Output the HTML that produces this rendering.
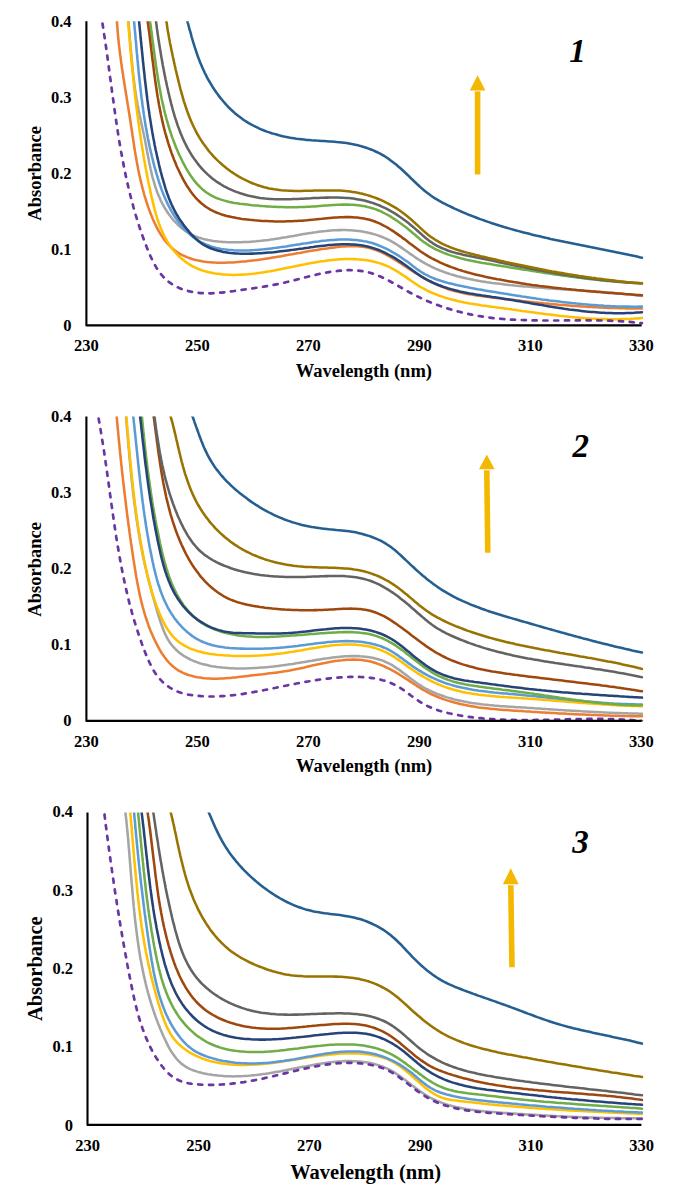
<!DOCTYPE html>
<html><head><meta charset="utf-8"><style>
html,body{margin:0;padding:0;background:#fff;}
svg{display:block;}
.t{font-family:"Liberation Serif",serif;font-weight:bold;font-size:16.5px;fill:#000;}
.ax{font-family:"Liberation Serif",serif;font-weight:bold;fill:#000;}
.num{font-family:"Liberation Serif",serif;font-weight:bold;font-style:italic;font-size:33px;fill:#000;}
</style></head><body>
<svg width="675" height="1194" viewBox="0 0 675 1194">
<rect width="675" height="1194" fill="#fff"/>
<clipPath id="c1"><rect x="85" y="21.2" width="558.5" height="304.8"/></clipPath>
<g clip-path="url(#c1)" fill="none" stroke-linejoin="round" stroke-linecap="round">
<path d="M116.6 15.0 L116.7 17.5 L116.9 20.0 L117.0 22.6 L117.2 25.1 L117.4 27.6 L117.6 30.1 L117.8 32.6 L118.0 35.1 L118.2 37.6 L118.5 40.1 L118.7 42.6 L119.0 45.1 L119.3 47.6 L119.6 50.1 L119.9 52.6 L120.2 55.1 L120.6 57.6 L120.9 60.1 L121.2 62.6 L121.6 65.1 L121.9 67.6 L122.3 70.1 L122.7 72.6 L123.1 75.0 L123.4 77.5 L123.8 80.0 L124.2 82.5 L124.6 85.0 L125.0 87.5 L125.4 90.0 L125.8 92.5 L126.2 94.9 L126.6 97.4 L127.0 99.9 L127.4 102.4 L127.8 104.9 L128.2 107.4 L128.6 109.9 L129.0 112.3 L129.4 114.8 L129.8 117.3 L130.2 119.8 L130.6 122.3 L130.9 124.8 L131.3 127.3 L131.7 129.7 L132.1 132.2 L132.4 134.7 L132.8 137.2 L133.2 139.7 L133.6 142.1 L133.9 144.6 L134.3 147.1 L134.7 149.6 L135.1 152.1 L135.5 154.5 L136.0 157.0 L136.4 159.5 L136.8 161.9 L137.3 164.4 L137.8 166.9 L138.2 169.3 L138.7 171.8 L139.2 174.2 L139.8 176.7 L140.3 179.1 L140.9 181.6 L141.5 184.0 L142.1 186.5 L142.7 188.9 L143.4 191.3 L144.0 193.8 L144.7 196.2 L145.5 198.6 L146.2 201.0 L147.0 203.4 L147.8 205.8 L148.6 208.2 L149.5 210.6 L150.4 213.0 L151.4 215.4 L152.3 217.8 L153.3 220.2 L154.4 222.5 L155.5 224.8 L156.6 227.1 L157.8 229.3 L159.0 231.6 L160.3 233.7 L161.7 235.8 L163.1 237.9 L164.5 239.9 L166.0 241.8 L167.6 243.7 L169.3 245.4 L171.0 247.1 L172.8 248.8 L174.7 250.3 L176.6 251.7 L178.6 253.0 L180.7 254.3 L182.9 255.4 L185.2 256.4 L187.5 257.4 L189.8 258.2 L192.2 259.0 L194.6 259.7 L197.1 260.3 L199.6 260.8 L202.1 261.3 L204.6 261.7 L207.2 262.0 L209.7 262.2 L212.3 262.4 L214.8 262.6 L217.4 262.7 L220.0 262.7 L222.5 262.7 L225.1 262.7 L227.7 262.6 L230.2 262.5 L232.8 262.4 L235.3 262.2 L237.8 262.0 L240.4 261.8 L242.9 261.6 L245.4 261.4 L247.9 261.1 L250.4 260.8 L252.9 260.5 L255.3 260.2 L257.8 259.9 L260.3 259.6 L262.8 259.2 L265.2 258.8 L267.7 258.4 L270.1 258.1 L272.6 257.6 L275.1 257.2 L277.5 256.8 L280.0 256.4 L282.4 256.0 L284.9 255.5 L287.3 255.1 L289.8 254.6 L292.2 254.2 L294.7 253.7 L297.1 253.3 L299.6 252.9 L302.1 252.4 L304.5 252.0 L307.0 251.5 L309.5 251.1 L312.0 250.7 L314.5 250.3 L317.0 249.9 L319.5 249.5 L322.0 249.1 L324.5 248.7 L327.0 248.4 L329.6 248.0 L332.1 247.7 L334.6 247.4 L337.2 247.1 L339.7 246.8 L342.3 246.6 L344.9 246.4 L347.4 246.3 L349.9 246.2 L352.5 246.2 L355.0 246.2 L357.5 246.3 L360.0 246.5 L362.4 246.8 L364.9 247.1 L367.3 247.6 L369.7 248.1 L372.1 248.7 L374.4 249.5 L376.7 250.3 L379.0 251.2 L381.2 252.2 L383.5 253.3 L385.7 254.4 L387.9 255.6 L390.1 256.8 L392.3 258.1 L394.4 259.4 L396.6 260.7 L398.7 262.1 L400.9 263.5 L403.0 264.9 L405.2 266.3 L407.3 267.7 L409.4 269.1 L411.6 270.5 L413.7 271.8 L415.9 273.2 L418.0 274.5 L420.2 275.8 L422.4 277.0 L424.5 278.3 L426.7 279.5 L428.9 280.7 L431.1 281.8 L433.4 282.9 L435.6 284.0 L437.9 285.0 L440.2 286.0 L442.4 286.9 L444.8 287.8 L447.1 288.7 L449.4 289.5 L451.8 290.2 L454.2 290.9 L456.6 291.5 L459.1 292.1 L461.5 292.7 L464.0 293.2 L466.4 293.7 L468.9 294.2 L471.4 294.6 L473.9 295.0 L476.4 295.4 L479.0 295.7 L481.5 296.1 L484.0 296.4 L486.5 296.7 L489.1 297.0 L491.6 297.4 L494.1 297.7 L496.6 298.0 L499.1 298.3 L501.6 298.6 L504.1 298.9 L506.7 299.2 L509.2 299.5 L511.7 299.8 L514.2 300.1 L516.7 300.4 L519.2 300.6 L521.7 300.9 L524.2 301.2 L526.7 301.5 L529.1 301.7 L531.6 302.0 L534.1 302.3 L536.6 302.5 L539.1 302.8 L541.6 303.0 L544.1 303.3 L546.6 303.5 L549.1 303.8 L551.6 304.0 L554.0 304.2 L556.5 304.4 L559.0 304.7 L561.5 304.9 L564.0 305.1 L566.5 305.3 L569.0 305.5 L571.5 305.7 L574.0 305.9 L576.5 306.0 L579.0 306.2 L581.5 306.4 L584.0 306.6 L586.5 306.7 L589.0 306.9 L591.5 307.0 L594.0 307.2 L596.5 307.3 L599.0 307.4 L601.5 307.5 L604.0 307.7 L606.5 307.8 L609.0 307.9 L611.5 308.0 L614.1 308.0 L616.6 308.1 L619.1 308.2 L621.6 308.3 L624.2 308.3 L626.7 308.4 L629.3 308.4 L631.8 308.4 L634.3 308.5 L636.9 308.5 L639.4 308.5 L642.0 308.5" stroke="#ED7D31" stroke-width="2.55"/>
<path d="M128.0 15.0 L128.2 17.5 L128.4 20.0 L128.6 22.5 L128.8 25.0 L129.0 27.5 L129.2 30.0 L129.4 32.5 L129.6 35.0 L129.8 37.5 L130.0 40.0 L130.2 42.6 L130.4 45.1 L130.6 47.6 L130.9 50.1 L131.1 52.6 L131.3 55.1 L131.5 57.6 L131.7 60.1 L132.0 62.6 L132.2 65.1 L132.5 67.7 L132.7 70.2 L133.0 72.7 L133.3 75.2 L133.6 77.7 L133.9 80.1 L134.2 82.6 L134.5 85.1 L134.8 87.6 L135.2 90.1 L135.5 92.6 L135.9 95.0 L136.3 97.5 L136.7 100.0 L137.2 102.4 L137.6 104.9 L138.1 107.3 L138.5 109.8 L139.0 112.2 L139.5 114.7 L140.1 117.1 L140.6 119.6 L141.1 122.0 L141.6 124.4 L142.2 126.9 L142.7 129.3 L143.2 131.8 L143.8 134.2 L144.3 136.7 L144.8 139.1 L145.3 141.6 L145.7 144.1 L146.2 146.6 L146.7 149.1 L147.1 151.5 L147.6 154.0 L148.1 156.5 L148.6 159.0 L149.0 161.5 L149.5 164.0 L150.1 166.5 L150.6 169.0 L151.2 171.4 L151.7 173.9 L152.3 176.3 L153.0 178.8 L153.7 181.2 L154.4 183.6 L155.1 186.0 L155.9 188.4 L156.7 190.8 L157.6 193.2 L158.6 195.5 L159.6 197.8 L160.6 200.1 L161.7 202.4 L162.9 204.6 L164.1 206.9 L165.4 209.0 L166.8 211.2 L168.2 213.3 L169.6 215.3 L171.1 217.3 L172.7 219.3 L174.4 221.1 L176.1 222.9 L177.8 224.7 L179.6 226.4 L181.5 228.0 L183.4 229.5 L185.4 230.9 L187.5 232.2 L189.6 233.5 L191.7 234.6 L193.9 235.7 L196.2 236.6 L198.5 237.5 L200.9 238.2 L203.3 238.9 L205.7 239.5 L208.2 240.1 L210.6 240.5 L213.2 240.9 L215.7 241.2 L218.2 241.5 L220.8 241.7 L223.3 241.9 L225.8 242.1 L228.4 242.2 L230.9 242.3 L233.4 242.3 L236.0 242.3 L238.5 242.3 L241.0 242.2 L243.5 242.1 L246.0 242.0 L248.5 241.9 L251.0 241.7 L253.5 241.5 L256.0 241.3 L258.5 241.0 L261.0 240.8 L263.5 240.5 L266.0 240.2 L268.5 239.9 L271.0 239.5 L273.5 239.2 L276.0 238.8 L278.5 238.4 L281.0 238.0 L283.5 237.6 L286.0 237.2 L288.5 236.7 L291.0 236.3 L293.5 235.9 L296.0 235.4 L298.5 235.0 L301.0 234.5 L303.5 234.1 L306.0 233.7 L308.5 233.3 L311.0 232.9 L313.5 232.5 L316.0 232.2 L318.5 231.8 L321.0 231.5 L323.5 231.2 L326.0 231.0 L328.5 230.7 L331.1 230.5 L333.6 230.3 L336.1 230.2 L338.6 230.1 L341.1 230.1 L343.6 230.0 L346.1 230.1 L348.5 230.2 L351.0 230.3 L353.5 230.5 L356.0 230.7 L358.5 231.0 L361.0 231.3 L363.4 231.7 L365.9 232.2 L368.3 232.7 L370.7 233.3 L373.1 233.9 L375.5 234.6 L377.9 235.4 L380.2 236.2 L382.5 237.1 L384.8 238.1 L387.1 239.1 L389.3 240.2 L391.5 241.4 L393.6 242.6 L395.8 243.9 L397.9 245.3 L400.0 246.6 L402.1 248.1 L404.1 249.5 L406.2 251.0 L408.3 252.4 L410.3 253.9 L412.4 255.3 L414.5 256.8 L416.5 258.2 L418.6 259.5 L420.8 260.9 L422.9 262.2 L425.1 263.4 L427.3 264.6 L429.5 265.7 L431.7 266.8 L433.9 267.9 L436.2 268.9 L438.5 269.8 L440.8 270.8 L443.1 271.6 L445.4 272.5 L447.8 273.3 L450.1 274.1 L452.5 274.8 L454.9 275.5 L457.3 276.2 L459.7 276.8 L462.2 277.4 L464.6 278.0 L467.0 278.6 L469.5 279.1 L472.0 279.6 L474.4 280.1 L476.9 280.5 L479.4 281.0 L481.9 281.4 L484.4 281.8 L486.9 282.2 L489.4 282.5 L491.9 282.9 L494.4 283.2 L496.9 283.5 L499.4 283.8 L501.9 284.1 L504.4 284.4 L506.9 284.7 L509.4 285.0 L511.9 285.2 L514.4 285.5 L516.9 285.7 L519.4 286.0 L521.9 286.2 L524.4 286.4 L526.9 286.6 L529.4 286.8 L531.9 287.0 L534.4 287.2 L536.9 287.4 L539.4 287.6 L541.9 287.8 L544.4 288.0 L546.9 288.2 L549.4 288.4 L551.9 288.5 L554.4 288.7 L556.9 288.9 L559.4 289.0 L561.9 289.2 L564.4 289.4 L566.9 289.5 L569.4 289.7 L571.9 289.9 L574.4 290.0 L576.9 290.2 L579.4 290.4 L581.9 290.5 L584.4 290.7 L586.9 290.9 L589.4 291.0 L591.9 291.2 L594.4 291.4 L596.9 291.6 L599.4 291.8 L601.9 292.0 L604.4 292.2 L606.9 292.4 L609.4 292.6 L611.9 292.8 L614.4 293.0 L616.9 293.3 L619.4 293.5 L622.0 293.7 L624.5 294.0 L627.0 294.2 L629.5 294.5 L632.0 294.8 L634.5 295.1 L637.0 295.4 L639.5 295.7 L642.0 296.0" stroke="#A5A5A5" stroke-width="2.55"/>
<path d="M127.5 15.0 L127.7 17.5 L127.9 20.1 L128.1 22.6 L128.3 25.1 L128.6 27.6 L128.8 30.1 L129.0 32.6 L129.2 35.1 L129.4 37.6 L129.7 40.2 L129.9 42.7 L130.1 45.2 L130.3 47.7 L130.5 50.2 L130.8 52.7 L131.0 55.2 L131.2 57.7 L131.5 60.2 L131.7 62.7 L131.9 65.2 L132.2 67.6 L132.4 70.1 L132.7 72.6 L132.9 75.1 L133.2 77.6 L133.4 80.1 L133.7 82.6 L134.0 85.1 L134.2 87.5 L134.5 90.0 L134.8 92.5 L135.1 95.0 L135.3 97.5 L135.6 100.0 L135.9 102.4 L136.2 104.9 L136.5 107.4 L136.8 109.9 L137.1 112.4 L137.5 114.8 L137.8 117.3 L138.1 119.8 L138.4 122.3 L138.8 124.7 L139.1 127.2 L139.5 129.7 L139.8 132.2 L140.2 134.6 L140.5 137.1 L140.9 139.6 L141.3 142.1 L141.7 144.5 L142.1 147.0 L142.5 149.5 L142.9 151.9 L143.3 154.4 L143.7 156.9 L144.1 159.4 L144.6 161.8 L145.0 164.3 L145.5 166.8 L145.9 169.3 L146.4 171.7 L146.9 174.2 L147.4 176.7 L147.8 179.2 L148.3 181.7 L148.9 184.1 L149.4 186.6 L149.9 189.1 L150.4 191.6 L151.0 194.1 L151.5 196.5 L152.1 199.0 L152.7 201.5 L153.3 204.0 L153.9 206.4 L154.5 208.9 L155.2 211.3 L155.8 213.8 L156.6 216.2 L157.3 218.6 L158.1 221.0 L158.9 223.4 L159.8 225.7 L160.7 228.0 L161.7 230.3 L162.7 232.6 L163.7 234.8 L164.8 237.0 L166.0 239.2 L167.2 241.3 L168.5 243.4 L169.9 245.5 L171.3 247.5 L172.8 249.4 L174.4 251.4 L176.0 253.2 L177.8 255.0 L179.5 256.8 L181.4 258.4 L183.3 260.0 L185.2 261.6 L187.2 263.0 L189.3 264.4 L191.4 265.6 L193.6 266.8 L195.9 267.9 L198.1 268.9 L200.5 269.8 L202.8 270.6 L205.2 271.3 L207.7 272.0 L210.1 272.5 L212.6 273.0 L215.1 273.5 L217.6 273.8 L220.1 274.1 L222.6 274.4 L225.2 274.6 L227.7 274.7 L230.2 274.8 L232.7 274.9 L235.2 274.9 L237.8 274.8 L240.3 274.7 L242.8 274.6 L245.3 274.5 L247.8 274.3 L250.3 274.0 L252.8 273.8 L255.3 273.5 L257.8 273.1 L260.3 272.8 L262.8 272.4 L265.3 272.0 L267.8 271.6 L270.3 271.2 L272.8 270.7 L275.3 270.3 L277.8 269.8 L280.3 269.3 L282.7 268.8 L285.2 268.3 L287.7 267.8 L290.2 267.3 L292.7 266.8 L295.2 266.3 L297.7 265.7 L300.1 265.2 L302.6 264.7 L305.1 264.3 L307.6 263.8 L310.1 263.3 L312.6 262.8 L315.0 262.4 L317.5 262.0 L320.0 261.6 L322.5 261.2 L325.0 260.9 L327.4 260.5 L329.9 260.2 L332.4 259.9 L334.9 259.7 L337.4 259.5 L339.9 259.3 L342.4 259.2 L344.8 259.1 L347.3 259.0 L349.8 259.0 L352.3 259.1 L354.8 259.1 L357.3 259.3 L359.8 259.4 L362.2 259.7 L364.7 260.0 L367.1 260.3 L369.6 260.7 L372.0 261.2 L374.4 261.8 L376.8 262.4 L379.2 263.1 L381.5 263.8 L383.8 264.7 L386.1 265.6 L388.4 266.6 L390.6 267.7 L392.8 268.8 L395.0 270.1 L397.1 271.4 L399.3 272.7 L401.4 274.1 L403.5 275.5 L405.6 276.9 L407.7 278.4 L409.8 279.9 L411.9 281.3 L414.0 282.7 L416.1 284.1 L418.2 285.5 L420.3 286.8 L422.5 288.0 L424.7 289.2 L426.9 290.4 L429.1 291.5 L431.4 292.5 L433.7 293.5 L436.0 294.4 L438.3 295.3 L440.6 296.1 L442.9 296.9 L445.3 297.7 L447.7 298.4 L450.1 299.1 L452.5 299.7 L454.9 300.3 L457.3 300.9 L459.7 301.5 L462.2 302.0 L464.6 302.5 L467.1 302.9 L469.6 303.4 L472.1 303.8 L474.5 304.2 L477.0 304.6 L479.5 305.0 L482.0 305.4 L484.5 305.7 L487.0 306.1 L489.5 306.4 L492.0 306.8 L494.6 307.1 L497.1 307.4 L499.6 307.8 L502.1 308.1 L504.6 308.4 L507.1 308.8 L509.6 309.1 L512.1 309.5 L514.5 309.8 L517.0 310.2 L519.5 310.5 L522.0 310.9 L524.5 311.2 L527.0 311.6 L529.5 311.9 L531.9 312.2 L534.4 312.6 L536.9 312.9 L539.4 313.3 L541.9 313.6 L544.3 313.9 L546.8 314.2 L549.3 314.5 L551.8 314.8 L554.3 315.1 L556.7 315.4 L559.2 315.7 L561.7 316.0 L564.2 316.3 L566.7 316.5 L569.1 316.8 L571.6 317.0 L574.1 317.3 L576.6 317.5 L579.1 317.7 L581.6 317.9 L584.0 318.1 L586.5 318.2 L589.0 318.4 L591.5 318.6 L594.0 318.7 L596.5 318.8 L599.0 318.9 L601.5 319.0 L604.0 319.1 L606.5 319.1 L609.0 319.2 L611.6 319.2 L614.1 319.2 L616.6 319.2 L619.1 319.2 L621.6 319.1 L624.2 319.1 L626.7 319.0 L629.3 318.9 L631.8 318.7 L634.3 318.6 L636.9 318.4 L639.4 318.2 L642.0 318.0" stroke="#FFC000" stroke-width="2.55"/>
<path d="M133.5 15.0 L133.7 17.5 L133.9 20.0 L134.2 22.5 L134.4 25.0 L134.6 27.4 L134.8 29.9 L135.1 32.4 L135.3 34.9 L135.5 37.4 L135.7 39.9 L136.0 42.4 L136.2 44.9 L136.4 47.4 L136.6 49.9 L136.8 52.4 L137.1 54.9 L137.3 57.4 L137.5 59.9 L137.8 62.4 L138.0 65.0 L138.3 67.5 L138.5 70.0 L138.7 72.5 L139.0 75.0 L139.3 77.5 L139.5 80.0 L139.8 82.5 L140.1 85.0 L140.4 87.5 L140.6 90.0 L140.9 92.5 L141.2 95.0 L141.5 97.5 L141.9 100.0 L142.2 102.5 L142.5 105.0 L142.9 107.5 L143.2 110.0 L143.6 112.5 L143.9 114.9 L144.3 117.4 L144.7 119.9 L145.1 122.4 L145.5 124.9 L145.9 127.3 L146.4 129.8 L146.8 132.3 L147.3 134.7 L147.7 137.2 L148.2 139.6 L148.7 142.1 L149.2 144.5 L149.7 147.0 L150.3 149.4 L150.8 151.9 L151.4 154.3 L152.0 156.7 L152.6 159.1 L153.2 161.6 L153.8 164.0 L154.4 166.4 L155.1 168.8 L155.8 171.2 L156.5 173.6 L157.2 175.9 L157.9 178.3 L158.6 180.7 L159.4 183.1 L160.2 185.4 L161.0 187.8 L161.8 190.1 L162.7 192.4 L163.6 194.8 L164.6 197.1 L165.6 199.4 L166.6 201.6 L167.7 203.9 L168.8 206.2 L170.0 208.4 L171.2 210.6 L172.5 212.8 L173.8 215.0 L175.2 217.2 L176.7 219.3 L178.2 221.4 L179.7 223.5 L181.3 225.5 L183.0 227.4 L184.7 229.3 L186.5 231.2 L188.3 232.9 L190.2 234.6 L192.1 236.2 L194.1 237.8 L196.1 239.2 L198.2 240.5 L200.3 241.8 L202.5 242.9 L204.7 244.0 L207.0 244.9 L209.3 245.8 L211.6 246.6 L214.0 247.3 L216.4 247.9 L218.8 248.4 L221.2 248.9 L223.7 249.3 L226.2 249.6 L228.7 249.9 L231.2 250.1 L233.7 250.3 L236.3 250.4 L238.8 250.5 L241.3 250.5 L243.9 250.5 L246.4 250.4 L248.9 250.4 L251.5 250.2 L254.0 250.1 L256.5 249.9 L259.0 249.7 L261.5 249.5 L263.9 249.3 L266.4 249.0 L268.9 248.7 L271.4 248.4 L273.8 248.1 L276.3 247.8 L278.8 247.4 L281.2 247.1 L283.7 246.7 L286.1 246.4 L288.6 246.0 L291.1 245.6 L293.5 245.2 L296.0 244.8 L298.5 244.4 L301.0 244.0 L303.5 243.6 L306.0 243.3 L308.5 242.9 L311.0 242.5 L313.5 242.1 L316.0 241.8 L318.6 241.5 L321.1 241.1 L323.6 240.8 L326.2 240.6 L328.7 240.3 L331.3 240.1 L333.8 239.9 L336.4 239.7 L338.9 239.6 L341.5 239.5 L344.0 239.5 L346.5 239.5 L349.0 239.6 L351.5 239.7 L354.0 239.9 L356.5 240.1 L359.0 240.4 L361.4 240.7 L363.9 241.2 L366.3 241.6 L368.7 242.2 L371.1 242.8 L373.5 243.5 L375.8 244.3 L378.1 245.2 L380.4 246.1 L382.7 247.1 L385.0 248.1 L387.2 249.2 L389.4 250.4 L391.6 251.6 L393.8 252.8 L396.0 254.1 L398.1 255.4 L400.2 256.8 L402.3 258.2 L404.4 259.7 L406.5 261.1 L408.5 262.6 L410.5 264.1 L412.5 265.7 L414.5 267.2 L416.5 268.7 L418.5 270.1 L420.6 271.5 L422.7 272.8 L424.8 274.1 L427.0 275.2 L429.2 276.3 L431.5 277.3 L433.7 278.3 L436.0 279.2 L438.4 280.0 L440.7 280.8 L443.1 281.5 L445.5 282.2 L447.9 282.9 L450.4 283.5 L452.8 284.1 L455.3 284.7 L457.7 285.3 L460.2 285.8 L462.7 286.3 L465.1 286.8 L467.6 287.3 L470.1 287.8 L472.5 288.2 L475.0 288.7 L477.5 289.2 L480.0 289.6 L482.5 290.0 L484.9 290.5 L487.4 290.9 L489.9 291.3 L492.4 291.7 L494.9 292.1 L497.3 292.5 L499.8 292.9 L502.3 293.3 L504.8 293.7 L507.2 294.1 L509.7 294.5 L512.2 294.9 L514.7 295.3 L517.2 295.7 L519.6 296.1 L522.1 296.5 L524.6 296.8 L527.1 297.2 L529.5 297.6 L532.0 297.9 L534.5 298.3 L537.0 298.7 L539.5 299.0 L541.9 299.4 L544.4 299.7 L546.9 300.0 L549.4 300.4 L551.9 300.7 L554.3 301.0 L556.8 301.3 L559.3 301.6 L561.8 301.9 L564.3 302.2 L566.8 302.5 L569.2 302.8 L571.7 303.1 L574.2 303.3 L576.7 303.6 L579.2 303.8 L581.7 304.1 L584.2 304.3 L586.7 304.5 L589.2 304.7 L591.7 304.9 L594.2 305.1 L596.7 305.3 L599.2 305.5 L601.7 305.6 L604.2 305.8 L606.7 305.9 L609.2 306.0 L611.7 306.2 L614.2 306.3 L616.7 306.4 L619.3 306.4 L621.8 306.5 L624.3 306.6 L626.8 306.6 L629.3 306.6 L631.9 306.7 L634.4 306.7 L636.9 306.7 L639.5 306.6 L642.0 306.6" stroke="#5B9BD5" stroke-width="2.55"/>
<path d="M149.2 15.1 L149.5 17.5 L149.9 20.0 L150.2 22.5 L150.6 24.9 L150.9 27.4 L151.2 29.9 L151.6 32.4 L151.9 34.9 L152.2 37.4 L152.5 39.9 L152.8 42.3 L153.2 44.8 L153.5 47.3 L153.8 49.8 L154.2 52.3 L154.5 54.8 L154.8 57.3 L155.2 59.8 L155.5 62.3 L155.9 64.8 L156.2 67.3 L156.6 69.8 L157.0 72.3 L157.4 74.7 L157.8 77.2 L158.2 79.7 L158.6 82.2 L159.0 84.7 L159.5 87.1 L159.9 89.6 L160.4 92.1 L160.8 94.6 L161.3 97.0 L161.8 99.5 L162.4 101.9 L162.9 104.4 L163.5 106.8 L164.0 109.3 L164.6 111.7 L165.2 114.1 L165.9 116.6 L166.5 119.0 L167.2 121.4 L167.9 123.8 L168.6 126.2 L169.3 128.6 L170.1 131.0 L170.9 133.4 L171.7 135.8 L172.5 138.1 L173.4 140.5 L174.3 142.8 L175.2 145.2 L176.1 147.5 L177.1 149.8 L178.1 152.2 L179.1 154.5 L180.2 156.8 L181.3 159.0 L182.4 161.3 L183.6 163.6 L184.8 165.8 L186.0 168.1 L187.3 170.3 L188.6 172.4 L189.9 174.5 L191.3 176.6 L192.8 178.7 L194.3 180.6 L195.9 182.6 L197.5 184.4 L199.2 186.2 L200.9 187.9 L202.7 189.5 L204.6 191.1 L206.5 192.5 L208.5 193.8 L210.6 195.1 L212.7 196.2 L215.0 197.3 L217.2 198.3 L219.6 199.1 L222.0 199.9 L224.4 200.6 L226.9 201.3 L229.4 201.9 L231.9 202.4 L234.5 202.9 L237.1 203.3 L239.6 203.7 L242.2 204.0 L244.8 204.3 L247.4 204.6 L250.0 204.9 L252.5 205.2 L255.1 205.4 L257.6 205.6 L260.1 205.9 L262.6 206.1 L265.1 206.2 L267.6 206.4 L270.1 206.6 L272.5 206.7 L275.0 206.8 L277.5 206.9 L279.9 207.0 L282.4 207.1 L284.8 207.2 L287.3 207.2 L289.7 207.2 L292.2 207.2 L294.6 207.2 L297.1 207.2 L299.5 207.1 L302.0 207.0 L304.5 206.9 L307.0 206.8 L309.5 206.7 L312.0 206.5 L314.5 206.4 L317.1 206.2 L319.6 206.0 L322.2 205.8 L324.7 205.6 L327.3 205.4 L329.8 205.2 L332.4 205.0 L334.9 204.9 L337.5 204.8 L340.1 204.7 L342.6 204.6 L345.1 204.6 L347.7 204.6 L350.2 204.7 L352.7 204.8 L355.2 205.0 L357.7 205.2 L360.2 205.5 L362.6 205.9 L365.0 206.3 L367.4 206.9 L369.8 207.5 L372.2 208.2 L374.5 208.9 L376.8 209.8 L379.1 210.7 L381.4 211.7 L383.7 212.8 L385.9 214.0 L388.1 215.2 L390.3 216.4 L392.4 217.8 L394.5 219.1 L396.6 220.5 L398.7 222.0 L400.8 223.5 L402.8 225.0 L404.9 226.5 L406.9 228.1 L408.8 229.7 L410.8 231.3 L412.7 233.0 L414.7 234.6 L416.6 236.2 L418.5 237.8 L420.4 239.4 L422.4 240.9 L424.4 242.4 L426.4 243.8 L428.4 245.1 L430.5 246.4 L432.7 247.6 L434.8 248.8 L437.0 249.9 L439.2 250.9 L441.5 251.9 L443.8 252.9 L446.1 253.7 L448.4 254.6 L450.8 255.4 L453.1 256.1 L455.5 256.8 L457.9 257.5 L460.4 258.2 L462.8 258.8 L465.2 259.4 L467.7 259.9 L470.2 260.5 L472.6 261.0 L475.1 261.5 L477.6 262.0 L480.1 262.4 L482.6 262.9 L485.1 263.3 L487.6 263.7 L490.1 264.1 L492.6 264.6 L495.1 265.0 L497.6 265.4 L500.1 265.8 L502.6 266.2 L505.1 266.6 L507.6 267.0 L510.1 267.4 L512.6 267.8 L515.1 268.2 L517.5 268.6 L520.0 269.0 L522.5 269.4 L525.0 269.8 L527.4 270.1 L529.9 270.5 L532.4 270.9 L534.9 271.3 L537.3 271.7 L539.8 272.1 L542.3 272.5 L544.7 272.9 L547.2 273.2 L549.7 273.6 L552.1 274.0 L554.6 274.4 L557.0 274.7 L559.5 275.1 L562.0 275.4 L564.4 275.8 L566.9 276.1 L569.4 276.5 L571.8 276.8 L574.3 277.1 L576.8 277.5 L579.3 277.8 L581.7 278.1 L584.2 278.4 L586.7 278.7 L589.2 279.0 L591.6 279.3 L594.1 279.6 L596.6 279.8 L599.1 280.1 L601.6 280.4 L604.1 280.6 L606.6 280.9 L609.1 281.1 L611.6 281.3 L614.1 281.5 L616.6 281.7 L619.1 281.9 L621.7 282.1 L624.2 282.3 L626.7 282.5 L629.3 282.6 L631.8 282.8 L634.3 282.9 L636.9 283.1 L639.4 283.2 L642.0 283.3" stroke="#70AD47" stroke-width="2.55"/>
<path d="M138.4 15.0 L138.7 17.5 L138.9 20.0 L139.2 22.5 L139.4 25.0 L139.7 27.5 L139.9 30.0 L140.2 32.5 L140.4 35.0 L140.6 37.5 L140.9 40.0 L141.1 42.5 L141.4 45.0 L141.6 47.5 L141.9 50.0 L142.1 52.5 L142.4 55.0 L142.6 57.5 L142.9 60.0 L143.1 62.5 L143.4 65.0 L143.6 67.5 L143.9 70.0 L144.2 72.5 L144.5 75.0 L144.7 77.5 L145.0 80.0 L145.3 82.5 L145.6 85.0 L145.9 87.5 L146.2 90.0 L146.5 92.5 L146.8 95.0 L147.1 97.5 L147.4 100.0 L147.8 102.5 L148.1 105.0 L148.4 107.5 L148.8 110.0 L149.2 112.5 L149.5 115.0 L149.9 117.5 L150.3 119.9 L150.7 122.4 L151.1 124.9 L151.5 127.4 L151.9 129.9 L152.3 132.3 L152.8 134.8 L153.2 137.3 L153.7 139.7 L154.2 142.2 L154.6 144.7 L155.1 147.1 L155.6 149.6 L156.2 152.0 L156.7 154.5 L157.2 156.9 L157.8 159.4 L158.4 161.8 L158.9 164.3 L159.5 166.7 L160.1 169.1 L160.7 171.6 L161.4 174.0 L162.0 176.4 L162.7 178.8 L163.4 181.2 L164.1 183.6 L164.8 186.0 L165.5 188.4 L166.3 190.8 L167.1 193.2 L168.0 195.5 L168.8 197.9 L169.8 200.2 L170.7 202.5 L171.7 204.8 L172.8 207.1 L173.9 209.3 L175.1 211.6 L176.3 213.8 L177.6 216.0 L178.9 218.1 L180.3 220.2 L181.8 222.3 L183.3 224.4 L184.8 226.4 L186.4 228.5 L188.0 230.4 L189.6 232.4 L191.3 234.3 L193.1 236.2 L194.9 237.9 L196.7 239.6 L198.6 241.2 L200.6 242.7 L202.6 244.1 L204.7 245.3 L206.8 246.5 L209.0 247.5 L211.3 248.5 L213.6 249.3 L215.9 250.1 L218.3 250.7 L220.7 251.3 L223.2 251.9 L225.7 252.3 L228.2 252.7 L230.7 253.0 L233.2 253.2 L235.8 253.4 L238.3 253.6 L240.9 253.7 L243.4 253.7 L246.0 253.7 L248.5 253.7 L251.1 253.6 L253.6 253.6 L256.1 253.5 L258.6 253.3 L261.1 253.2 L263.6 253.0 L266.1 252.8 L268.6 252.6 L271.1 252.4 L273.5 252.2 L276.0 251.9 L278.5 251.6 L280.9 251.3 L283.4 251.0 L285.8 250.7 L288.3 250.4 L290.8 250.1 L293.2 249.8 L295.7 249.4 L298.2 249.1 L300.7 248.7 L303.1 248.4 L305.6 248.0 L308.2 247.7 L310.7 247.3 L313.2 247.0 L315.7 246.6 L318.3 246.3 L320.8 246.0 L323.4 245.7 L325.9 245.4 L328.5 245.1 L331.1 244.9 L333.6 244.7 L336.2 244.5 L338.7 244.4 L341.3 244.3 L343.8 244.2 L346.4 244.2 L348.9 244.3 L351.4 244.4 L353.9 244.5 L356.4 244.7 L358.9 245.0 L361.3 245.3 L363.8 245.7 L366.2 246.2 L368.6 246.8 L371.0 247.4 L373.3 248.1 L375.7 248.9 L378.0 249.7 L380.3 250.7 L382.5 251.7 L384.8 252.7 L387.0 253.8 L389.2 255.0 L391.4 256.2 L393.6 257.4 L395.7 258.7 L397.9 260.1 L400.0 261.4 L402.1 262.9 L404.2 264.3 L406.3 265.7 L408.3 267.2 L410.4 268.7 L412.4 270.2 L414.5 271.7 L416.5 273.2 L418.6 274.6 L420.6 276.0 L422.7 277.3 L424.9 278.6 L427.1 279.8 L429.2 280.9 L431.5 282.0 L433.7 283.1 L436.0 284.0 L438.3 285.0 L440.6 285.8 L442.9 286.7 L445.3 287.4 L447.6 288.2 L450.0 288.9 L452.4 289.6 L454.8 290.2 L457.3 290.8 L459.7 291.4 L462.2 291.9 L464.7 292.4 L467.1 292.9 L469.6 293.4 L472.1 293.8 L474.6 294.3 L477.1 294.7 L479.6 295.1 L482.2 295.5 L484.7 295.8 L487.2 296.2 L489.7 296.6 L492.2 297.0 L494.8 297.3 L497.3 297.7 L499.8 298.1 L502.3 298.5 L504.8 298.9 L507.3 299.3 L509.8 299.7 L512.3 300.1 L514.8 300.5 L517.2 300.9 L519.7 301.3 L522.2 301.8 L524.7 302.2 L527.1 302.6 L529.6 303.0 L532.0 303.5 L534.5 303.9 L537.0 304.3 L539.4 304.7 L541.9 305.1 L544.3 305.6 L546.8 306.0 L549.2 306.4 L551.7 306.8 L554.1 307.2 L556.6 307.6 L559.1 307.9 L561.5 308.3 L564.0 308.7 L566.4 309.0 L568.9 309.4 L571.3 309.7 L573.8 310.0 L576.3 310.3 L578.7 310.6 L581.2 310.9 L583.7 311.2 L586.2 311.5 L588.6 311.7 L591.1 311.9 L593.6 312.1 L596.1 312.3 L598.6 312.5 L601.1 312.7 L603.6 312.8 L606.1 312.9 L608.6 313.0 L611.2 313.1 L613.7 313.2 L616.2 313.2 L618.8 313.2 L621.3 313.2 L623.9 313.2 L626.4 313.1 L629.0 313.0 L631.6 312.9 L634.2 312.8 L636.8 312.6 L639.4 312.4 L642.0 312.2" stroke="#264478" stroke-width="2.55"/>
<path d="M146.7 15.1 L147.1 17.5 L147.5 20.0 L147.8 22.5 L148.2 24.9 L148.5 27.4 L148.8 29.9 L149.2 32.4 L149.5 34.8 L149.8 37.3 L150.1 39.8 L150.4 42.3 L150.7 44.8 L151.0 47.3 L151.3 49.8 L151.6 52.3 L151.9 54.8 L152.2 57.3 L152.5 59.8 L152.9 62.3 L153.2 64.8 L153.5 67.3 L153.8 69.8 L154.1 72.3 L154.4 74.8 L154.8 77.3 L155.1 79.8 L155.5 82.3 L155.8 84.8 L156.2 87.3 L156.6 89.8 L156.9 92.3 L157.3 94.7 L157.7 97.2 L158.2 99.7 L158.6 102.2 L159.0 104.7 L159.5 107.1 L160.0 109.6 L160.4 112.1 L160.9 114.5 L161.5 117.0 L162.0 119.4 L162.5 121.9 L163.1 124.3 L163.7 126.8 L164.3 129.2 L164.9 131.6 L165.6 134.0 L166.3 136.4 L167.0 138.8 L167.7 141.2 L168.4 143.6 L169.2 146.0 L170.0 148.4 L170.8 150.8 L171.6 153.1 L172.5 155.5 L173.4 157.9 L174.3 160.2 L175.3 162.5 L176.2 164.9 L177.2 167.2 L178.3 169.5 L179.4 171.8 L180.5 174.1 L181.6 176.3 L182.8 178.6 L184.0 180.8 L185.2 183.0 L186.5 185.2 L187.9 187.3 L189.3 189.4 L190.7 191.5 L192.2 193.5 L193.7 195.4 L195.3 197.3 L197.0 199.1 L198.7 200.8 L200.5 202.5 L202.3 204.1 L204.2 205.6 L206.2 207.0 L208.2 208.3 L210.3 209.6 L212.5 210.7 L214.8 211.8 L217.0 212.7 L219.4 213.6 L221.8 214.5 L224.2 215.2 L226.7 215.9 L229.2 216.5 L231.7 217.1 L234.2 217.6 L236.8 218.1 L239.4 218.5 L242.0 218.9 L244.5 219.2 L247.1 219.5 L249.7 219.8 L252.2 220.0 L254.8 220.3 L257.3 220.5 L259.8 220.7 L262.3 220.9 L264.8 221.0 L267.3 221.1 L269.7 221.2 L272.2 221.3 L274.7 221.4 L277.1 221.4 L279.6 221.4 L282.1 221.4 L284.5 221.4 L287.0 221.3 L289.4 221.3 L291.9 221.2 L294.4 221.1 L296.8 221.0 L299.3 220.8 L301.8 220.7 L304.3 220.5 L306.8 220.3 L309.3 220.0 L311.8 219.8 L314.4 219.6 L316.9 219.3 L319.5 219.0 L322.0 218.8 L324.6 218.5 L327.2 218.2 L329.7 218.0 L332.3 217.8 L334.9 217.6 L337.4 217.4 L340.0 217.3 L342.5 217.2 L345.1 217.1 L347.6 217.1 L350.1 217.1 L352.6 217.2 L355.1 217.4 L357.6 217.6 L360.0 217.9 L362.5 218.2 L364.9 218.7 L367.2 219.2 L369.6 219.8 L371.9 220.5 L374.2 221.3 L376.5 222.2 L378.8 223.2 L381.0 224.2 L383.2 225.3 L385.4 226.5 L387.6 227.7 L389.7 229.0 L391.8 230.3 L394.0 231.7 L396.0 233.1 L398.1 234.6 L400.2 236.1 L402.2 237.6 L404.3 239.1 L406.3 240.6 L408.3 242.2 L410.3 243.7 L412.4 245.3 L414.4 246.8 L416.4 248.3 L418.4 249.8 L420.4 251.3 L422.5 252.7 L424.6 254.0 L426.7 255.3 L428.8 256.6 L431.0 257.8 L433.2 259.0 L435.4 260.1 L437.6 261.2 L439.8 262.3 L442.1 263.3 L444.4 264.3 L446.6 265.3 L449.0 266.2 L451.3 267.1 L453.6 267.9 L456.0 268.8 L458.3 269.6 L460.7 270.3 L463.1 271.1 L465.5 271.8 L467.9 272.5 L470.3 273.1 L472.7 273.8 L475.2 274.4 L477.6 275.0 L480.1 275.6 L482.5 276.1 L485.0 276.7 L487.4 277.2 L489.9 277.7 L492.4 278.2 L494.9 278.7 L497.3 279.2 L499.8 279.6 L502.3 280.1 L504.8 280.5 L507.3 281.0 L509.7 281.4 L512.2 281.8 L514.7 282.2 L517.2 282.6 L519.7 283.0 L522.1 283.4 L524.6 283.8 L527.1 284.2 L529.6 284.5 L532.1 284.9 L534.6 285.2 L537.1 285.5 L539.5 285.9 L542.0 286.2 L544.5 286.5 L547.0 286.8 L549.5 287.1 L552.0 287.4 L554.5 287.7 L557.0 288.0 L559.5 288.3 L562.0 288.6 L564.4 288.8 L566.9 289.1 L569.4 289.3 L571.9 289.6 L574.4 289.8 L576.9 290.1 L579.4 290.3 L581.9 290.5 L584.4 290.8 L586.9 291.0 L589.4 291.2 L591.9 291.4 L594.4 291.6 L596.9 291.9 L599.4 292.1 L601.9 292.3 L604.4 292.5 L606.9 292.7 L609.4 292.9 L611.9 293.0 L614.4 293.2 L616.9 293.4 L619.4 293.6 L621.9 293.8 L624.4 294.0 L626.9 294.2 L629.5 294.3 L632.0 294.5 L634.5 294.7 L637.0 294.9 L639.5 295.0 L642.0 295.2" stroke="#9E480E" stroke-width="2.55"/>
<path d="M155.2 15.0 L155.5 17.6 L155.8 20.1 L156.2 22.6 L156.5 25.1 L156.8 27.6 L157.2 30.1 L157.5 32.6 L157.9 35.1 L158.2 37.6 L158.6 40.0 L159.0 42.5 L159.4 45.0 L159.8 47.5 L160.2 49.9 L160.6 52.4 L161.0 54.9 L161.4 57.3 L161.9 59.8 L162.3 62.3 L162.7 64.7 L163.2 67.2 L163.7 69.6 L164.1 72.1 L164.6 74.5 L165.1 77.0 L165.6 79.5 L166.2 81.9 L166.7 84.4 L167.2 86.8 L167.8 89.3 L168.3 91.8 L168.9 94.2 L169.5 96.7 L170.1 99.2 L170.7 101.6 L171.3 104.1 L172.0 106.6 L172.6 109.0 L173.3 111.5 L174.0 113.9 L174.7 116.4 L175.5 118.8 L176.3 121.2 L177.1 123.7 L177.9 126.1 L178.8 128.4 L179.7 130.8 L180.6 133.2 L181.6 135.5 L182.5 137.8 L183.6 140.1 L184.6 142.4 L185.8 144.6 L186.9 146.9 L188.1 149.1 L189.3 151.2 L190.6 153.4 L191.9 155.5 L193.3 157.6 L194.7 159.6 L196.2 161.6 L197.7 163.6 L199.3 165.6 L200.9 167.5 L202.6 169.3 L204.3 171.1 L206.1 172.9 L207.9 174.6 L209.8 176.3 L211.7 177.9 L213.7 179.4 L215.7 180.9 L217.7 182.4 L219.8 183.7 L221.9 185.0 L224.1 186.3 L226.3 187.4 L228.6 188.6 L230.9 189.6 L233.2 190.6 L235.5 191.6 L237.9 192.4 L240.3 193.3 L242.7 194.0 L245.1 194.7 L247.6 195.4 L250.1 196.0 L252.5 196.5 L255.0 197.0 L257.5 197.5 L260.0 197.9 L262.6 198.2 L265.1 198.5 L267.6 198.7 L270.1 198.9 L272.7 199.1 L275.2 199.2 L277.7 199.2 L280.3 199.3 L282.8 199.3 L285.4 199.3 L287.9 199.3 L290.4 199.2 L293.0 199.1 L295.5 199.0 L298.1 198.9 L300.6 198.8 L303.2 198.7 L305.7 198.5 L308.3 198.4 L310.8 198.3 L313.3 198.1 L315.9 198.0 L318.4 197.9 L320.9 197.8 L323.4 197.7 L326.0 197.6 L328.5 197.6 L331.0 197.5 L333.5 197.5 L336.0 197.5 L338.5 197.6 L341.0 197.7 L343.4 197.8 L345.9 197.9 L348.4 198.1 L350.8 198.3 L353.3 198.6 L355.7 199.0 L358.1 199.4 L360.5 199.8 L362.9 200.3 L365.3 200.8 L367.7 201.5 L370.1 202.2 L372.5 202.9 L374.8 203.7 L377.2 204.6 L379.5 205.5 L381.8 206.6 L384.1 207.6 L386.4 208.7 L388.6 209.9 L390.8 211.1 L393.0 212.4 L395.2 213.7 L397.4 215.1 L399.5 216.5 L401.6 218.0 L403.7 219.5 L405.8 221.0 L407.8 222.6 L409.8 224.2 L411.7 225.8 L413.7 227.4 L415.6 229.1 L417.5 230.8 L419.4 232.5 L421.3 234.1 L423.1 235.8 L425.1 237.4 L427.0 238.9 L428.9 240.4 L430.9 241.9 L432.9 243.3 L435.0 244.6 L437.1 245.8 L439.3 246.9 L441.5 248.0 L443.8 248.9 L446.1 249.8 L448.4 250.7 L450.8 251.5 L453.2 252.2 L455.6 252.9 L458.0 253.5 L460.5 254.1 L463.0 254.7 L465.5 255.2 L468.0 255.7 L470.5 256.2 L473.0 256.7 L475.5 257.2 L478.0 257.7 L480.5 258.2 L483.0 258.7 L485.5 259.2 L487.9 259.7 L490.4 260.3 L492.9 260.8 L495.3 261.3 L497.8 261.9 L500.2 262.4 L502.7 262.9 L505.2 263.4 L507.6 263.9 L510.1 264.5 L512.5 265.0 L515.0 265.5 L517.5 266.0 L519.9 266.5 L522.4 267.0 L524.8 267.5 L527.3 268.0 L529.8 268.5 L532.2 269.0 L534.7 269.4 L537.2 269.9 L539.7 270.4 L542.1 270.8 L544.6 271.3 L547.1 271.8 L549.5 272.2 L552.0 272.6 L554.5 273.1 L557.0 273.5 L559.4 273.9 L561.9 274.4 L564.4 274.8 L566.9 275.2 L569.4 275.6 L571.9 276.0 L574.3 276.3 L576.8 276.7 L579.3 277.1 L581.8 277.4 L584.3 277.8 L586.8 278.1 L589.3 278.5 L591.8 278.8 L594.3 279.1 L596.8 279.4 L599.3 279.7 L601.8 280.0 L604.3 280.3 L606.8 280.6 L609.3 280.8 L611.8 281.1 L614.3 281.3 L616.8 281.6 L619.3 281.8 L621.8 282.0 L624.3 282.2 L626.9 282.4 L629.4 282.6 L631.9 282.7 L634.4 282.9 L636.9 283.0 L639.5 283.2 L642.0 283.3" stroke="#636363" stroke-width="2.55"/>
<path d="M165.6 15.1 L165.9 17.6 L166.2 20.1 L166.6 22.6 L167.0 25.1 L167.3 27.6 L167.7 30.1 L168.1 32.6 L168.6 35.0 L169.0 37.5 L169.5 39.9 L169.9 42.4 L170.4 44.8 L170.9 47.3 L171.4 49.7 L171.9 52.1 L172.4 54.6 L172.9 57.0 L173.5 59.4 L174.0 61.9 L174.5 64.3 L175.1 66.8 L175.6 69.2 L176.2 71.7 L176.8 74.1 L177.4 76.6 L178.0 79.1 L178.6 81.6 L179.2 84.0 L179.8 86.5 L180.4 89.0 L181.1 91.4 L181.8 93.9 L182.5 96.4 L183.2 98.8 L183.9 101.3 L184.7 103.7 L185.5 106.1 L186.3 108.5 L187.1 110.9 L188.0 113.3 L188.9 115.7 L189.8 118.0 L190.8 120.4 L191.8 122.7 L192.8 125.0 L193.9 127.3 L195.0 129.5 L196.2 131.8 L197.3 134.0 L198.6 136.1 L199.9 138.3 L201.2 140.4 L202.6 142.5 L204.0 144.6 L205.5 146.6 L207.0 148.6 L208.5 150.6 L210.1 152.5 L211.8 154.4 L213.5 156.3 L215.2 158.1 L217.0 159.9 L218.8 161.6 L220.7 163.3 L222.6 165.0 L224.5 166.6 L226.5 168.2 L228.5 169.7 L230.5 171.2 L232.6 172.6 L234.7 174.0 L236.8 175.3 L238.9 176.6 L241.1 177.8 L243.3 179.0 L245.6 180.2 L247.8 181.2 L250.1 182.3 L252.4 183.2 L254.8 184.1 L257.1 185.0 L259.5 185.8 L261.9 186.5 L264.3 187.2 L266.7 187.8 L269.1 188.4 L271.6 188.8 L274.1 189.3 L276.5 189.6 L279.0 189.9 L281.5 190.2 L284.0 190.4 L286.6 190.6 L289.1 190.7 L291.6 190.8 L294.2 190.9 L296.7 190.9 L299.3 190.9 L301.8 190.9 L304.4 190.8 L306.9 190.8 L309.5 190.7 L312.1 190.7 L314.6 190.6 L317.2 190.5 L319.8 190.5 L322.3 190.4 L324.9 190.4 L327.4 190.4 L330.0 190.4 L332.5 190.4 L335.1 190.4 L337.6 190.5 L340.1 190.6 L342.7 190.8 L345.2 191.0 L347.7 191.2 L350.1 191.5 L352.6 191.9 L355.1 192.3 L357.5 192.7 L360.0 193.3 L362.4 193.8 L364.8 194.4 L367.2 195.1 L369.5 195.8 L371.9 196.6 L374.2 197.4 L376.6 198.3 L378.9 199.2 L381.1 200.2 L383.4 201.2 L385.6 202.3 L387.8 203.4 L390.0 204.6 L392.2 205.8 L394.4 207.1 L396.5 208.4 L398.6 209.8 L400.7 211.2 L402.7 212.7 L404.7 214.2 L406.7 215.8 L408.7 217.4 L410.6 219.0 L412.5 220.7 L414.4 222.4 L416.3 224.2 L418.2 225.9 L420.0 227.7 L421.9 229.4 L423.8 231.1 L425.7 232.8 L427.7 234.4 L429.7 235.9 L431.7 237.4 L433.8 238.8 L435.9 240.2 L438.0 241.4 L440.2 242.6 L442.4 243.8 L444.7 244.8 L447.0 245.9 L449.3 246.8 L451.6 247.8 L454.0 248.6 L456.3 249.5 L458.7 250.2 L461.1 251.0 L463.6 251.7 L466.0 252.4 L468.4 253.1 L470.9 253.7 L473.3 254.3 L475.8 255.0 L478.3 255.6 L480.7 256.2 L483.2 256.7 L485.7 257.3 L488.1 257.9 L490.6 258.5 L493.0 259.1 L495.5 259.6 L498.0 260.2 L500.4 260.8 L502.9 261.3 L505.4 261.9 L507.8 262.4 L510.3 263.0 L512.7 263.5 L515.2 264.0 L517.7 264.6 L520.1 265.1 L522.6 265.6 L525.0 266.1 L527.5 266.6 L530.0 267.1 L532.4 267.6 L534.9 268.1 L537.4 268.6 L539.8 269.1 L542.3 269.5 L544.8 270.0 L547.2 270.5 L549.7 270.9 L552.2 271.4 L554.6 271.8 L557.1 272.3 L559.6 272.7 L562.0 273.1 L564.5 273.6 L567.0 274.0 L569.5 274.4 L571.9 274.8 L574.4 275.2 L576.9 275.6 L579.4 276.0 L581.9 276.3 L584.3 276.7 L586.8 277.1 L589.3 277.4 L591.8 277.8 L594.3 278.1 L596.8 278.5 L599.3 278.8 L601.8 279.1 L604.3 279.4 L606.8 279.7 L609.3 280.0 L611.8 280.3 L614.3 280.6 L616.8 280.9 L619.3 281.2 L621.8 281.4 L624.3 281.7 L626.8 282.0 L629.4 282.2 L631.9 282.4 L634.4 282.7 L636.9 282.9 L639.5 283.1 L642.0 283.3" stroke="#997300" stroke-width="2.55"/>
<path d="M185.7 15.2 L186.4 17.6 L187.1 20.1 L187.7 22.5 L188.4 25.0 L189.0 27.4 L189.7 29.8 L190.4 32.2 L191.1 34.7 L191.7 37.1 L192.4 39.5 L193.1 41.9 L193.9 44.3 L194.6 46.7 L195.4 49.1 L196.2 51.5 L197.0 53.9 L197.8 56.3 L198.7 58.6 L199.6 61.0 L200.5 63.3 L201.5 65.6 L202.5 67.9 L203.6 70.3 L204.6 72.5 L205.8 74.8 L206.9 77.1 L208.1 79.3 L209.4 81.5 L210.7 83.7 L212.0 85.9 L213.3 88.1 L214.8 90.2 L216.2 92.3 L217.7 94.3 L219.2 96.4 L220.8 98.4 L222.4 100.3 L224.0 102.2 L225.7 104.1 L227.4 106.0 L229.1 107.8 L230.9 109.5 L232.8 111.2 L234.6 112.9 L236.5 114.5 L238.5 116.1 L240.5 117.6 L242.5 119.1 L244.6 120.5 L246.7 121.8 L248.8 123.1 L251.0 124.3 L253.2 125.5 L255.4 126.7 L257.6 127.7 L259.9 128.8 L262.2 129.8 L264.6 130.7 L266.9 131.6 L269.3 132.4 L271.7 133.2 L274.1 133.9 L276.6 134.6 L279.0 135.3 L281.5 135.9 L284.0 136.5 L286.5 137.0 L289.0 137.5 L291.5 137.9 L294.0 138.3 L296.5 138.7 L299.0 139.0 L301.5 139.3 L304.0 139.6 L306.6 139.9 L309.1 140.1 L311.6 140.3 L314.1 140.4 L316.6 140.6 L319.1 140.7 L321.6 140.9 L324.2 141.0 L326.7 141.2 L329.2 141.4 L331.7 141.5 L334.2 141.7 L336.7 142.0 L339.2 142.2 L341.7 142.5 L344.1 142.8 L346.6 143.1 L349.1 143.5 L351.6 144.0 L354.1 144.5 L356.5 145.0 L359.0 145.6 L361.4 146.3 L363.8 147.0 L366.3 147.8 L368.6 148.6 L371.0 149.5 L373.3 150.4 L375.6 151.5 L377.9 152.5 L380.1 153.7 L382.3 154.9 L384.5 156.2 L386.6 157.5 L388.7 158.9 L390.7 160.4 L392.7 161.9 L394.7 163.4 L396.7 165.0 L398.6 166.7 L400.5 168.3 L402.4 170.0 L404.2 171.7 L406.1 173.5 L407.9 175.2 L409.7 177.0 L411.5 178.8 L413.4 180.5 L415.2 182.3 L417.0 184.0 L418.9 185.7 L420.7 187.4 L422.6 189.1 L424.5 190.7 L426.5 192.3 L428.5 193.8 L430.5 195.3 L432.5 196.7 L434.6 198.1 L436.8 199.4 L438.9 200.6 L441.1 201.9 L443.3 203.1 L445.6 204.2 L447.8 205.3 L450.1 206.4 L452.3 207.5 L454.6 208.6 L456.9 209.6 L459.2 210.6 L461.5 211.7 L463.8 212.6 L466.1 213.6 L468.4 214.6 L470.8 215.5 L473.1 216.4 L475.4 217.3 L477.8 218.2 L480.2 219.1 L482.5 219.9 L484.9 220.8 L487.3 221.6 L489.6 222.4 L492.0 223.2 L494.4 224.0 L496.8 224.7 L499.2 225.5 L501.6 226.2 L504.1 227.0 L506.5 227.7 L508.9 228.4 L511.3 229.1 L513.8 229.8 L516.2 230.4 L518.6 231.1 L521.1 231.8 L523.5 232.4 L526.0 233.0 L528.4 233.6 L530.9 234.3 L533.3 234.9 L535.8 235.5 L538.3 236.0 L540.7 236.6 L543.2 237.2 L545.7 237.8 L548.1 238.3 L550.6 238.9 L553.1 239.4 L555.6 240.0 L558.0 240.5 L560.5 241.0 L563.0 241.5 L565.5 242.1 L568.0 242.6 L570.5 243.1 L572.9 243.6 L575.4 244.1 L577.9 244.6 L580.4 245.1 L582.9 245.6 L585.4 246.1 L587.8 246.6 L590.3 247.1 L592.8 247.6 L595.3 248.1 L597.8 248.6 L600.2 249.0 L602.7 249.5 L605.2 250.0 L607.7 250.5 L610.1 251.0 L612.6 251.5 L615.1 252.0 L617.5 252.5 L620.0 253.0 L622.5 253.5 L624.9 254.0 L627.4 254.5 L629.8 255.1 L632.2 255.6 L634.7 256.1 L637.1 256.6 L639.6 257.2 L642.0 257.7" stroke="#255E91" stroke-width="2.55"/>
<path d="M101.0 15.1 L101.5 17.5 L101.9 20.0 L102.3 22.5 L102.7 25.0 L103.1 27.5 L103.5 29.9 L103.9 32.4 L104.2 34.9 L104.6 37.4 L105.0 39.9 L105.3 42.4 L105.7 44.9 L106.1 47.3 L106.4 49.8 L106.8 52.3 L107.1 54.8 L107.5 57.3 L107.8 59.8 L108.1 62.3 L108.5 64.8 L108.8 67.3 L109.1 69.8 L109.5 72.2 L109.8 74.7 L110.1 77.2 L110.5 79.7 L110.8 82.2 L111.1 84.7 L111.5 87.2 L111.8 89.7 L112.1 92.2 L112.5 94.7 L112.8 97.2 L113.2 99.7 L113.5 102.1 L113.8 104.6 L114.2 107.1 L114.5 109.6 L114.9 112.1 L115.2 114.6 L115.6 117.1 L116.0 119.6 L116.3 122.0 L116.7 124.5 L117.1 127.0 L117.5 129.5 L117.8 132.0 L118.2 134.4 L118.6 136.9 L119.0 139.4 L119.4 141.9 L119.8 144.4 L120.3 146.8 L120.7 149.3 L121.1 151.8 L121.6 154.2 L122.0 156.7 L122.5 159.2 L123.0 161.6 L123.4 164.1 L123.9 166.6 L124.4 169.0 L124.9 171.5 L125.4 173.9 L125.9 176.4 L126.5 178.9 L127.0 181.3 L127.6 183.8 L128.1 186.2 L128.7 188.6 L129.3 191.1 L129.9 193.5 L130.5 196.0 L131.1 198.4 L131.8 200.8 L132.4 203.3 L133.1 205.7 L133.7 208.1 L134.4 210.5 L135.1 213.0 L135.8 215.4 L136.6 217.8 L137.3 220.2 L138.1 222.6 L138.8 225.0 L139.6 227.4 L140.4 229.8 L141.2 232.2 L142.1 234.6 L142.9 237.0 L143.8 239.4 L144.7 241.8 L145.6 244.2 L146.5 246.6 L147.4 248.9 L148.4 251.3 L149.4 253.7 L150.4 256.0 L151.5 258.3 L152.6 260.6 L153.7 262.8 L154.9 265.0 L156.1 267.1 L157.4 269.2 L158.8 271.2 L160.2 273.2 L161.8 275.1 L163.4 276.9 L165.0 278.6 L166.8 280.2 L168.7 281.8 L170.6 283.2 L172.6 284.5 L174.7 285.7 L176.9 286.9 L179.2 287.9 L181.5 288.9 L183.8 289.7 L186.2 290.5 L188.6 291.1 L191.1 291.7 L193.5 292.2 L196.0 292.5 L198.5 292.8 L201.0 293.1 L203.6 293.2 L206.1 293.3 L208.7 293.3 L211.2 293.3 L213.8 293.2 L216.4 293.0 L218.9 292.8 L221.5 292.6 L224.1 292.3 L226.6 292.0 L229.2 291.7 L231.7 291.3 L234.3 291.0 L236.8 290.6 L239.4 290.2 L241.9 289.9 L244.4 289.5 L246.9 289.1 L249.4 288.8 L251.8 288.4 L254.3 288.1 L256.7 287.7 L259.2 287.3 L261.6 287.0 L264.1 286.6 L266.5 286.2 L268.9 285.8 L271.3 285.3 L273.7 284.9 L276.2 284.4 L278.6 283.9 L281.0 283.4 L283.4 282.9 L285.9 282.3 L288.3 281.7 L290.7 281.1 L293.2 280.5 L295.6 279.9 L298.1 279.2 L300.5 278.6 L303.0 278.0 L305.5 277.3 L307.9 276.7 L310.4 276.1 L312.9 275.5 L315.4 274.9 L317.8 274.3 L320.3 273.8 L322.8 273.3 L325.3 272.8 L327.8 272.3 L330.3 271.9 L332.8 271.5 L335.4 271.2 L337.9 270.9 L340.4 270.6 L342.9 270.4 L345.4 270.3 L347.9 270.2 L350.4 270.2 L352.9 270.3 L355.4 270.4 L357.8 270.6 L360.3 270.8 L362.7 271.2 L365.1 271.6 L367.5 272.1 L369.9 272.7 L372.2 273.4 L374.5 274.2 L376.8 275.1 L379.1 276.0 L381.4 277.0 L383.6 278.0 L385.9 279.1 L388.1 280.3 L390.3 281.5 L392.5 282.7 L394.7 283.9 L396.9 285.2 L399.2 286.5 L401.4 287.7 L403.6 289.0 L405.8 290.3 L408.0 291.5 L410.2 292.7 L412.5 293.9 L414.7 295.1 L417.0 296.2 L419.3 297.3 L421.5 298.4 L423.8 299.5 L426.1 300.5 L428.5 301.5 L430.8 302.4 L433.1 303.4 L435.5 304.3 L437.8 305.1 L440.2 306.0 L442.5 306.8 L444.9 307.6 L447.3 308.4 L449.7 309.1 L452.1 309.8 L454.5 310.5 L456.9 311.2 L459.3 311.8 L461.7 312.4 L464.1 313.0 L466.6 313.6 L469.0 314.1 L471.5 314.6 L473.9 315.1 L476.4 315.5 L478.8 316.0 L481.3 316.4 L483.8 316.8 L486.3 317.1 L488.7 317.5 L491.2 317.8 L493.7 318.1 L496.2 318.3 L498.7 318.6 L501.2 318.8 L503.7 319.0 L506.2 319.2 L508.7 319.4 L511.2 319.6 L513.7 319.7 L516.2 319.8 L518.8 319.9 L521.3 320.0 L523.8 320.1 L526.3 320.2 L528.9 320.3 L531.4 320.3 L533.9 320.4 L536.5 320.4 L539.0 320.5 L541.5 320.5 L544.0 320.5 L546.6 320.5 L549.1 320.5 L551.7 320.5 L554.2 320.5 L556.7 320.5 L559.3 320.5 L561.8 320.4 L564.3 320.4 L566.9 320.4 L569.4 320.4 L571.9 320.4 L574.5 320.4 L577.0 320.4 L579.5 320.3 L582.1 320.3 L584.6 320.3 L587.1 320.3 L589.6 320.4 L592.2 320.4 L594.7 320.4 L597.2 320.4 L599.7 320.5 L602.2 320.5 L604.8 320.6 L607.3 320.6 L609.8 320.7 L612.3 320.8 L614.8 320.9 L617.3 321.1 L619.8 321.2 L622.2 321.3 L624.7 321.5 L627.2 321.7 L629.7 321.9 L632.2 322.1 L634.6 322.4 L637.1 322.6 L639.5 322.9 L642.0 323.2" stroke="#6A37A2" stroke-width="2.7" stroke-dasharray="4.1 6.7" stroke-dashoffset="2.25" stroke-linecap="round"/>
</g>
<path d="M86.4 21.2 V325.4 H641.6" fill="none" stroke="#000" stroke-width="2.1" stroke-linejoin="round"/>
<text x="71.5" y="26.6" text-anchor="end" class="t">0.4</text>
<text x="71.5" y="102.7" text-anchor="end" class="t">0.3</text>
<text x="71.5" y="178.7" text-anchor="end" class="t">0.2</text>
<text x="71.5" y="254.8" text-anchor="end" class="t">0.1</text>
<text x="71.5" y="330.9" text-anchor="end" class="t">0</text>
<text x="86.3" y="351.0" text-anchor="middle" class="t">230</text>
<text x="197.3" y="351.0" text-anchor="middle" class="t">250</text>
<text x="308.3" y="351.0" text-anchor="middle" class="t">270</text>
<text x="419.3" y="351.0" text-anchor="middle" class="t">290</text>
<text x="530.3" y="351.0" text-anchor="middle" class="t">310</text>
<text x="641.3" y="351.0" text-anchor="middle" class="t">330</text>
<text x="363.9" y="376.8" text-anchor="middle" class="ax" font-size="18.5">Wavelength (nm)</text>
<text transform="translate(40.7 173.4) rotate(-90)" text-anchor="middle" class="ax" font-size="18.5">Absorbance</text>
<text x="569.2" y="62.2" class="num">1</text>
<path d="M477.6 174.5 L477.6 91.4" stroke="#F5B800" stroke-width="5.6" fill="none"/>
<path d="M477.6 75.3 L469.8 90.4 L485.4 90.4 Z" fill="#F5B800"/>
<clipPath id="c2"><rect x="85" y="416.6" width="558.5" height="304.9"/></clipPath>
<g clip-path="url(#c2)" fill="none" stroke-linejoin="round" stroke-linecap="round">
<path d="M116.1 410.0 L116.3 412.5 L116.6 415.1 L116.8 417.6 L117.0 420.1 L117.2 422.6 L117.5 425.1 L117.7 427.6 L117.9 430.1 L118.2 432.6 L118.4 435.1 L118.6 437.6 L118.9 440.1 L119.1 442.6 L119.4 445.1 L119.6 447.6 L119.9 450.1 L120.1 452.6 L120.4 455.1 L120.6 457.6 L120.9 460.1 L121.1 462.6 L121.4 465.1 L121.7 467.6 L121.9 470.1 L122.2 472.6 L122.5 475.0 L122.8 477.5 L123.0 480.0 L123.3 482.5 L123.6 485.0 L123.9 487.5 L124.2 490.0 L124.5 492.5 L124.8 494.9 L125.1 497.4 L125.4 499.9 L125.7 502.4 L126.0 504.9 L126.3 507.4 L126.6 509.8 L126.9 512.3 L127.2 514.8 L127.5 517.3 L127.9 519.8 L128.2 522.3 L128.5 524.8 L128.9 527.2 L129.2 529.7 L129.5 532.2 L129.9 534.7 L130.2 537.2 L130.6 539.7 L130.9 542.2 L131.3 544.6 L131.7 547.1 L132.0 549.6 L132.4 552.1 L132.8 554.6 L133.1 557.1 L133.5 559.6 L133.9 562.1 L134.3 564.6 L134.7 567.1 L135.1 569.6 L135.5 572.0 L135.9 574.5 L136.3 577.0 L136.8 579.5 L137.2 582.0 L137.7 584.5 L138.2 587.0 L138.7 589.4 L139.2 591.9 L139.7 594.4 L140.2 596.8 L140.8 599.3 L141.4 601.7 L142.0 604.1 L142.6 606.6 L143.3 609.0 L144.0 611.4 L144.7 613.8 L145.4 616.2 L146.2 618.6 L147.0 621.0 L147.8 623.4 L148.6 625.7 L149.5 628.1 L150.4 630.4 L151.4 632.7 L152.4 635.0 L153.4 637.3 L154.5 639.6 L155.6 641.9 L156.7 644.2 L157.9 646.4 L159.1 648.6 L160.4 650.8 L161.7 653.0 L163.1 655.1 L164.5 657.1 L166.0 659.1 L167.6 661.0 L169.2 662.9 L171.0 664.6 L172.8 666.3 L174.7 667.8 L176.6 669.2 L178.7 670.6 L180.8 671.7 L183.0 672.8 L185.3 673.8 L187.6 674.7 L190.0 675.4 L192.5 676.1 L194.9 676.7 L197.4 677.2 L199.9 677.6 L202.5 678.0 L205.0 678.3 L207.5 678.5 L210.1 678.6 L212.6 678.7 L215.2 678.7 L217.8 678.7 L220.3 678.6 L222.9 678.5 L225.4 678.3 L228.0 678.1 L230.5 677.9 L233.0 677.6 L235.6 677.4 L238.1 677.1 L240.6 676.8 L243.1 676.5 L245.6 676.2 L248.1 675.9 L250.6 675.6 L253.1 675.3 L255.5 675.0 L258.0 674.7 L260.4 674.4 L262.8 674.2 L265.3 673.9 L267.7 673.6 L270.1 673.3 L272.5 673.0 L275.0 672.7 L277.4 672.4 L279.8 672.1 L282.2 671.7 L284.7 671.3 L287.1 670.9 L289.6 670.5 L292.1 670.0 L294.5 669.5 L297.0 669.0 L299.5 668.5 L302.0 667.9 L304.5 667.4 L307.0 666.8 L309.5 666.2 L312.1 665.6 L314.6 665.1 L317.1 664.5 L319.6 664.0 L322.2 663.4 L324.7 662.9 L327.2 662.4 L329.7 662.0 L332.3 661.5 L334.8 661.1 L337.3 660.8 L339.8 660.4 L342.3 660.2 L344.8 659.9 L347.3 659.8 L349.8 659.7 L352.2 659.6 L354.7 659.6 L357.1 659.7 L359.6 659.8 L362.0 660.1 L364.4 660.4 L366.8 660.8 L369.2 661.3 L371.6 661.8 L373.9 662.5 L376.3 663.3 L378.6 664.1 L380.9 665.0 L383.2 665.9 L385.5 667.0 L387.8 668.1 L390.0 669.2 L392.2 670.4 L394.5 671.6 L396.7 672.9 L398.9 674.2 L401.0 675.6 L403.2 676.9 L405.4 678.3 L407.5 679.7 L409.6 681.1 L411.7 682.5 L413.8 683.9 L415.9 685.3 L418.0 686.7 L420.2 688.0 L422.3 689.3 L424.5 690.5 L426.6 691.7 L428.8 692.9 L431.1 694.0 L433.3 695.0 L435.6 696.0 L437.9 697.0 L440.1 697.9 L442.5 698.8 L444.8 699.6 L447.1 700.4 L449.5 701.1 L451.9 701.8 L454.3 702.5 L456.7 703.1 L459.1 703.7 L461.5 704.3 L464.0 704.8 L466.4 705.3 L468.9 705.8 L471.3 706.2 L473.8 706.6 L476.3 707.0 L478.8 707.4 L481.3 707.7 L483.8 708.0 L486.3 708.3 L488.8 708.6 L491.4 708.9 L493.9 709.1 L496.4 709.3 L498.9 709.6 L501.5 709.8 L504.0 710.0 L506.5 710.1 L509.1 710.3 L511.6 710.5 L514.2 710.7 L516.7 710.8 L519.2 711.0 L521.7 711.1 L524.3 711.3 L526.8 711.4 L529.3 711.6 L531.8 711.8 L534.3 711.9 L536.8 712.1 L539.3 712.2 L541.8 712.4 L544.3 712.5 L546.8 712.7 L549.3 712.8 L551.8 713.0 L554.3 713.1 L556.8 713.2 L559.3 713.4 L561.8 713.5 L564.3 713.6 L566.8 713.8 L569.2 713.9 L571.7 714.0 L574.2 714.2 L576.7 714.3 L579.2 714.4 L581.7 714.5 L584.2 714.6 L586.7 714.7 L589.2 714.8 L591.6 714.9 L594.1 715.0 L596.6 715.1 L599.1 715.2 L601.6 715.3 L604.1 715.4 L606.6 715.5 L609.1 715.6 L611.7 715.7 L614.2 715.7 L616.7 715.8 L619.2 715.8 L621.7 715.9 L624.2 716.0 L626.8 716.0 L629.3 716.1 L631.8 716.1 L634.4 716.1 L636.9 716.2 L639.4 716.2 L642.0 716.2" stroke="#ED7D31" stroke-width="2.55"/>
<path d="M125.5 410.0 L125.7 412.5 L125.9 415.0 L126.1 417.5 L126.3 419.9 L126.5 422.4 L126.7 424.9 L126.9 427.4 L127.1 429.9 L127.3 432.4 L127.6 434.9 L127.8 437.4 L128.0 439.9 L128.2 442.4 L128.4 444.9 L128.6 447.4 L128.9 449.9 L129.1 452.4 L129.3 455.0 L129.5 457.5 L129.8 460.0 L130.0 462.5 L130.2 465.0 L130.5 467.5 L130.7 470.0 L131.0 472.6 L131.2 475.1 L131.5 477.6 L131.7 480.1 L132.0 482.6 L132.3 485.1 L132.6 487.6 L132.8 490.2 L133.1 492.7 L133.4 495.2 L133.7 497.7 L134.0 500.2 L134.3 502.7 L134.7 505.2 L135.0 507.7 L135.3 510.2 L135.7 512.7 L136.0 515.2 L136.4 517.7 L136.7 520.1 L137.1 522.6 L137.5 525.1 L137.9 527.6 L138.3 530.1 L138.7 532.5 L139.1 535.0 L139.5 537.4 L139.9 539.9 L140.4 542.4 L140.8 544.8 L141.3 547.2 L141.7 549.7 L142.2 552.1 L142.7 554.5 L143.2 557.0 L143.7 559.4 L144.3 561.8 L144.8 564.2 L145.3 566.6 L145.9 569.0 L146.5 571.4 L147.0 573.8 L147.6 576.2 L148.2 578.6 L148.8 581.0 L149.5 583.4 L150.1 585.8 L150.7 588.2 L151.4 590.6 L152.0 593.0 L152.7 595.5 L153.4 597.9 L154.1 600.4 L154.8 602.8 L155.5 605.3 L156.2 607.8 L156.9 610.3 L157.6 612.8 L158.4 615.4 L159.2 617.9 L160.0 620.4 L160.8 622.9 L161.7 625.4 L162.6 627.8 L163.5 630.3 L164.5 632.6 L165.6 634.9 L166.7 637.2 L167.9 639.3 L169.2 641.4 L170.6 643.4 L172.0 645.3 L173.6 647.2 L175.2 648.9 L176.9 650.5 L178.6 652.1 L180.5 653.5 L182.4 654.9 L184.3 656.2 L186.4 657.4 L188.5 658.5 L190.6 659.6 L192.8 660.6 L195.1 661.5 L197.4 662.4 L199.7 663.2 L202.1 663.9 L204.5 664.5 L207.0 665.1 L209.5 665.7 L212.0 666.2 L214.5 666.6 L217.1 667.0 L219.7 667.3 L222.3 667.6 L224.9 667.8 L227.5 668.0 L230.1 668.2 L232.8 668.3 L235.4 668.4 L238.0 668.4 L240.7 668.5 L243.3 668.4 L245.9 668.4 L248.4 668.3 L251.0 668.2 L253.6 668.1 L256.1 668.0 L258.6 667.8 L261.1 667.6 L263.5 667.4 L266.0 667.2 L268.5 667.0 L270.9 666.7 L273.3 666.5 L275.7 666.2 L278.2 665.9 L280.6 665.6 L283.0 665.3 L285.4 664.9 L287.8 664.6 L290.2 664.2 L292.6 663.9 L295.0 663.5 L297.5 663.1 L299.9 662.7 L302.3 662.3 L304.8 661.9 L307.2 661.5 L309.7 661.1 L312.2 660.7 L314.7 660.2 L317.2 659.8 L319.8 659.4 L322.3 659.0 L324.9 658.6 L327.4 658.3 L330.0 657.9 L332.5 657.6 L335.1 657.3 L337.6 657.0 L340.2 656.7 L342.8 656.5 L345.3 656.3 L347.9 656.2 L350.4 656.1 L352.9 656.1 L355.4 656.1 L357.9 656.1 L360.4 656.3 L362.9 656.4 L365.4 656.7 L367.8 657.0 L370.2 657.4 L372.6 657.8 L375.0 658.4 L377.4 659.0 L379.7 659.7 L382.0 660.4 L384.3 661.3 L386.5 662.3 L388.7 663.3 L390.9 664.5 L393.0 665.7 L395.1 667.1 L397.2 668.5 L399.3 669.9 L401.4 671.4 L403.4 673.0 L405.5 674.5 L407.5 676.1 L409.5 677.7 L411.6 679.2 L413.7 680.8 L415.7 682.3 L417.8 683.7 L420.0 685.1 L422.1 686.5 L424.3 687.8 L426.5 689.0 L428.7 690.1 L431.0 691.2 L433.2 692.2 L435.5 693.2 L437.8 694.1 L440.2 695.0 L442.5 695.8 L444.9 696.6 L447.2 697.4 L449.6 698.1 L452.0 698.7 L454.4 699.4 L456.8 700.0 L459.2 700.5 L461.7 701.1 L464.1 701.6 L466.6 702.0 L469.0 702.5 L471.5 702.9 L474.0 703.2 L476.5 703.6 L479.0 703.9 L481.5 704.3 L484.0 704.6 L486.5 704.8 L489.0 705.1 L491.5 705.3 L494.0 705.6 L496.5 705.8 L499.1 706.0 L501.6 706.2 L504.1 706.3 L506.6 706.5 L509.2 706.7 L511.7 706.8 L514.2 707.0 L516.7 707.2 L519.3 707.3 L521.8 707.5 L524.3 707.6 L526.8 707.8 L529.3 708.0 L531.8 708.1 L534.3 708.3 L536.8 708.4 L539.3 708.6 L541.8 708.8 L544.3 708.9 L546.8 709.1 L549.3 709.2 L551.8 709.4 L554.3 709.6 L556.8 709.7 L559.3 709.9 L561.8 710.1 L564.3 710.2 L566.8 710.4 L569.3 710.5 L571.8 710.7 L574.3 710.8 L576.8 711.0 L579.3 711.1 L581.8 711.3 L584.2 711.4 L586.7 711.5 L589.2 711.7 L591.7 711.8 L594.2 712.0 L596.7 712.1 L599.2 712.2 L601.7 712.3 L604.2 712.4 L606.7 712.6 L609.2 712.7 L611.7 712.8 L614.2 712.9 L616.8 713.0 L619.3 713.1 L621.8 713.2 L624.3 713.2 L626.8 713.3 L629.3 713.4 L631.9 713.5 L634.4 713.5 L636.9 713.6 L639.5 713.7 L642.0 713.7" stroke="#A5A5A5" stroke-width="2.55"/>
<path d="M125.9 410.0 L126.1 412.5 L126.3 415.0 L126.5 417.5 L126.7 420.0 L126.9 422.5 L127.1 425.0 L127.3 427.5 L127.5 430.0 L127.7 432.5 L128.0 435.0 L128.2 437.5 L128.4 440.0 L128.6 442.5 L128.8 445.1 L129.0 447.6 L129.3 450.1 L129.5 452.6 L129.7 455.1 L130.0 457.6 L130.2 460.1 L130.4 462.6 L130.7 465.1 L130.9 467.6 L131.2 470.1 L131.4 472.6 L131.7 475.1 L131.9 477.6 L132.2 480.1 L132.5 482.6 L132.8 485.1 L133.0 487.6 L133.3 490.1 L133.6 492.6 L133.9 495.1 L134.2 497.6 L134.5 500.1 L134.8 502.6 L135.1 505.1 L135.5 507.5 L135.8 510.0 L136.1 512.5 L136.5 515.0 L136.8 517.5 L137.2 520.0 L137.6 522.5 L137.9 524.9 L138.3 527.4 L138.7 529.9 L139.1 532.4 L139.5 534.8 L139.9 537.3 L140.3 539.8 L140.8 542.2 L141.2 544.7 L141.6 547.2 L142.1 549.6 L142.6 552.1 L143.0 554.5 L143.5 557.0 L144.0 559.4 L144.5 561.9 L145.0 564.3 L145.5 566.8 L146.1 569.2 L146.6 571.7 L147.2 574.1 L147.8 576.5 L148.4 579.0 L149.0 581.4 L149.6 583.8 L150.3 586.3 L151.0 588.7 L151.7 591.1 L152.4 593.5 L153.1 595.9 L153.9 598.3 L154.7 600.7 L155.6 603.1 L156.4 605.5 L157.3 607.9 L158.3 610.3 L159.2 612.7 L160.2 615.1 L161.3 617.5 L162.4 619.8 L163.5 622.1 L164.7 624.4 L165.9 626.6 L167.2 628.7 L168.6 630.8 L170.0 632.8 L171.6 634.8 L173.1 636.6 L174.8 638.4 L176.5 640.0 L178.4 641.6 L180.3 643.0 L182.3 644.3 L184.3 645.6 L186.5 646.7 L188.7 647.8 L190.9 648.8 L193.2 649.6 L195.6 650.4 L197.9 651.2 L200.4 651.8 L202.9 652.4 L205.3 653.0 L207.9 653.5 L210.4 653.9 L213.0 654.2 L215.6 654.6 L218.1 654.9 L220.7 655.1 L223.3 655.3 L225.9 655.5 L228.5 655.6 L231.0 655.8 L233.6 655.9 L236.1 655.9 L238.6 656.0 L241.1 656.0 L243.6 656.0 L246.1 656.0 L248.6 656.0 L251.1 655.9 L253.5 655.8 L256.0 655.7 L258.5 655.6 L260.9 655.4 L263.4 655.3 L265.9 655.1 L268.3 654.9 L270.8 654.6 L273.2 654.4 L275.7 654.1 L278.1 653.8 L280.6 653.5 L283.1 653.2 L285.6 652.8 L288.0 652.4 L290.5 652.1 L293.0 651.7 L295.5 651.2 L298.0 650.8 L300.5 650.4 L303.1 649.9 L305.6 649.5 L308.1 649.1 L310.6 648.6 L313.2 648.2 L315.7 647.8 L318.2 647.4 L320.8 647.0 L323.3 646.6 L325.8 646.2 L328.4 645.9 L330.9 645.6 L333.4 645.3 L335.9 645.1 L338.5 644.9 L341.0 644.7 L343.5 644.6 L346.0 644.5 L348.5 644.5 L350.9 644.5 L353.4 644.6 L355.9 644.7 L358.3 644.9 L360.8 645.2 L363.2 645.5 L365.6 645.9 L368.1 646.3 L370.5 646.8 L372.8 647.5 L375.2 648.1 L377.5 648.9 L379.9 649.7 L382.2 650.7 L384.4 651.6 L386.7 652.7 L388.9 653.9 L391.1 655.1 L393.2 656.4 L395.3 657.7 L397.4 659.1 L399.5 660.6 L401.6 662.0 L403.6 663.5 L405.7 665.0 L407.7 666.5 L409.8 668.0 L411.9 669.4 L414.0 670.8 L416.1 672.2 L418.2 673.6 L420.3 674.9 L422.5 676.2 L424.6 677.5 L426.8 678.7 L429.0 679.9 L431.2 681.0 L433.5 682.1 L435.7 683.2 L438.0 684.2 L440.3 685.1 L442.6 686.1 L444.9 686.9 L447.2 687.7 L449.6 688.5 L452.0 689.2 L454.4 689.9 L456.8 690.5 L459.2 691.1 L461.6 691.7 L464.0 692.2 L466.5 692.7 L469.0 693.1 L471.4 693.5 L473.9 693.9 L476.4 694.3 L478.9 694.7 L481.4 695.0 L483.9 695.3 L486.4 695.6 L489.0 695.8 L491.5 696.1 L494.0 696.3 L496.5 696.5 L499.1 696.7 L501.6 696.9 L504.2 697.1 L506.7 697.2 L509.2 697.4 L511.8 697.6 L514.3 697.7 L516.8 697.9 L519.4 698.1 L521.9 698.2 L524.4 698.4 L526.9 698.6 L529.5 698.8 L532.0 698.9 L534.5 699.1 L537.0 699.3 L539.5 699.5 L542.0 699.7 L544.5 699.9 L547.0 700.1 L549.5 700.3 L551.9 700.5 L554.4 700.7 L556.9 700.9 L559.4 701.1 L561.9 701.3 L564.4 701.5 L566.9 701.7 L569.3 701.9 L571.8 702.1 L574.3 702.3 L576.8 702.5 L579.3 702.7 L581.7 702.9 L584.2 703.0 L586.7 703.2 L589.2 703.4 L591.7 703.6 L594.2 703.8 L596.7 704.0 L599.2 704.1 L601.7 704.3 L604.1 704.5 L606.6 704.6 L609.1 704.8 L611.7 704.9 L614.2 705.1 L616.7 705.2 L619.2 705.4 L621.7 705.5 L624.2 705.6 L626.7 705.7 L629.3 705.8 L631.8 705.9 L634.4 706.0 L636.9 706.1 L639.4 706.2 L642.0 706.3" stroke="#FFC000" stroke-width="2.55"/>
<path d="M132.6 410.0 L132.8 412.5 L133.1 415.0 L133.4 417.6 L133.7 420.1 L133.9 422.6 L134.2 425.1 L134.5 427.6 L134.7 430.1 L135.0 432.6 L135.3 435.1 L135.5 437.6 L135.8 440.1 L136.0 442.6 L136.3 445.1 L136.6 447.6 L136.8 450.1 L137.1 452.6 L137.3 455.1 L137.6 457.6 L137.9 460.1 L138.1 462.6 L138.4 465.1 L138.7 467.6 L138.9 470.1 L139.2 472.6 L139.5 475.1 L139.8 477.6 L140.0 480.1 L140.3 482.5 L140.6 485.0 L140.9 487.5 L141.2 490.0 L141.5 492.5 L141.8 495.0 L142.1 497.5 L142.4 500.0 L142.7 502.5 L143.1 504.9 L143.4 507.4 L143.7 509.9 L144.1 512.4 L144.4 514.9 L144.8 517.4 L145.2 519.9 L145.5 522.3 L145.9 524.8 L146.3 527.3 L146.7 529.8 L147.1 532.3 L147.5 534.8 L148.0 537.2 L148.4 539.7 L148.8 542.2 L149.3 544.7 L149.7 547.2 L150.2 549.6 L150.7 552.1 L151.2 554.6 L151.7 557.1 L152.2 559.6 L152.7 562.0 L153.3 564.5 L153.8 567.0 L154.4 569.5 L155.0 571.9 L155.6 574.4 L156.3 576.8 L156.9 579.3 L157.6 581.7 L158.3 584.1 L159.1 586.5 L159.9 588.9 L160.7 591.3 L161.6 593.6 L162.5 595.9 L163.4 598.3 L164.4 600.5 L165.5 602.8 L166.6 605.0 L167.7 607.3 L168.9 609.4 L170.2 611.6 L171.5 613.7 L172.9 615.8 L174.3 617.9 L175.8 619.9 L177.4 621.9 L179.0 623.8 L180.7 625.7 L182.5 627.6 L184.3 629.4 L186.2 631.1 L188.1 632.8 L190.1 634.3 L192.1 635.9 L194.2 637.3 L196.4 638.6 L198.6 639.8 L200.8 641.0 L203.0 642.0 L205.4 642.9 L207.7 643.8 L210.1 644.5 L212.5 645.2 L214.9 645.8 L217.3 646.3 L219.8 646.7 L222.3 647.1 L224.8 647.5 L227.3 647.7 L229.8 648.0 L232.3 648.2 L234.8 648.3 L237.4 648.5 L239.9 648.6 L242.4 648.6 L244.9 648.7 L247.4 648.8 L249.9 648.8 L252.4 648.8 L254.9 648.8 L257.4 648.8 L259.9 648.7 L262.4 648.7 L264.9 648.6 L267.4 648.5 L269.9 648.4 L272.4 648.2 L274.9 648.1 L277.4 647.9 L279.9 647.7 L282.4 647.5 L284.9 647.3 L287.4 647.0 L289.9 646.7 L292.4 646.5 L294.9 646.2 L297.4 645.9 L300.0 645.5 L302.5 645.2 L305.0 644.9 L307.5 644.6 L310.1 644.2 L312.6 643.9 L315.1 643.6 L317.7 643.3 L320.2 643.0 L322.7 642.7 L325.3 642.4 L327.8 642.1 L330.3 641.9 L332.8 641.7 L335.4 641.5 L337.9 641.4 L340.4 641.3 L342.9 641.2 L345.4 641.1 L347.9 641.1 L350.4 641.2 L352.9 641.3 L355.4 641.4 L357.8 641.6 L360.3 641.8 L362.8 642.1 L365.2 642.5 L367.7 642.9 L370.1 643.3 L372.5 643.9 L374.9 644.5 L377.3 645.2 L379.7 645.9 L382.0 646.8 L384.3 647.7 L386.6 648.7 L388.9 649.8 L391.0 651.0 L393.2 652.3 L395.3 653.7 L397.4 655.1 L399.4 656.6 L401.5 658.1 L403.5 659.6 L405.6 661.1 L407.6 662.6 L409.7 664.1 L411.7 665.6 L413.8 667.0 L415.9 668.4 L418.0 669.8 L420.2 671.1 L422.3 672.4 L424.5 673.6 L426.7 674.8 L428.9 676.0 L431.1 677.1 L433.4 678.2 L435.6 679.2 L437.9 680.2 L440.2 681.1 L442.5 682.0 L444.9 682.9 L447.2 683.7 L449.6 684.4 L451.9 685.1 L454.3 685.8 L456.7 686.4 L459.2 687.0 L461.6 687.6 L464.0 688.1 L466.5 688.6 L468.9 689.1 L471.4 689.5 L473.9 689.9 L476.4 690.3 L478.9 690.7 L481.4 691.0 L483.9 691.3 L486.4 691.6 L488.9 691.9 L491.5 692.2 L494.0 692.5 L496.5 692.7 L499.1 693.0 L501.6 693.2 L504.1 693.4 L506.7 693.6 L509.2 693.9 L511.7 694.1 L514.3 694.3 L516.8 694.5 L519.3 694.7 L521.8 694.9 L524.4 695.2 L526.9 695.4 L529.4 695.7 L531.9 695.9 L534.4 696.1 L536.9 696.4 L539.4 696.7 L541.9 696.9 L544.4 697.2 L546.9 697.4 L549.4 697.7 L551.9 698.0 L554.3 698.2 L556.8 698.5 L559.3 698.7 L561.8 699.0 L564.3 699.3 L566.8 699.5 L569.3 699.8 L571.7 700.0 L574.2 700.3 L576.7 700.5 L579.2 700.8 L581.7 701.0 L584.1 701.3 L586.6 701.5 L589.1 701.7 L591.6 701.9 L594.1 702.1 L596.6 702.3 L599.1 702.5 L601.6 702.7 L604.1 702.9 L606.6 703.1 L609.1 703.3 L611.6 703.4 L614.1 703.6 L616.6 703.7 L619.1 703.8 L621.7 703.9 L624.2 704.0 L626.7 704.1 L629.3 704.2 L631.8 704.3 L634.3 704.3 L636.9 704.4 L639.4 704.4 L642.0 704.4" stroke="#5B9BD5" stroke-width="2.55"/>
<path d="M141.3 410.0 L141.5 412.5 L141.7 415.1 L142.0 417.6 L142.2 420.1 L142.5 422.7 L142.7 425.2 L143.0 427.7 L143.2 430.2 L143.5 432.7 L143.8 435.2 L144.0 437.7 L144.3 440.2 L144.6 442.7 L144.8 445.2 L145.1 447.7 L145.4 450.2 L145.7 452.6 L145.9 455.1 L146.2 457.6 L146.5 460.1 L146.8 462.6 L147.1 465.0 L147.4 467.5 L147.7 470.0 L148.1 472.4 L148.4 474.9 L148.7 477.4 L149.1 479.8 L149.4 482.3 L149.7 484.8 L150.1 487.2 L150.5 489.7 L150.8 492.2 L151.2 494.6 L151.6 497.1 L152.0 499.6 L152.3 502.0 L152.7 504.5 L153.1 506.9 L153.6 509.4 L154.0 511.9 L154.4 514.3 L154.9 516.8 L155.3 519.3 L155.8 521.7 L156.2 524.2 L156.7 526.7 L157.2 529.1 L157.7 531.6 L158.2 534.1 L158.7 536.6 L159.2 539.0 L159.7 541.5 L160.2 544.0 L160.8 546.5 L161.4 549.0 L161.9 551.5 L162.5 553.9 L163.1 556.4 L163.8 558.9 L164.4 561.4 L165.1 563.8 L165.8 566.3 L166.5 568.7 L167.3 571.1 L168.0 573.5 L168.9 575.9 L169.7 578.3 L170.6 580.6 L171.5 583.0 L172.5 585.3 L173.5 587.6 L174.6 589.8 L175.7 592.1 L176.8 594.3 L178.0 596.5 L179.3 598.6 L180.6 600.7 L182.0 602.8 L183.4 604.9 L184.9 606.9 L186.4 608.8 L188.0 610.8 L189.6 612.6 L191.4 614.4 L193.1 616.1 L195.0 617.8 L196.9 619.4 L198.9 620.9 L200.9 622.3 L203.0 623.6 L205.1 624.9 L207.3 626.1 L209.5 627.2 L211.8 628.2 L214.1 629.2 L216.5 630.1 L218.8 630.9 L221.2 631.7 L223.6 632.4 L226.1 633.0 L228.5 633.6 L231.0 634.1 L233.4 634.6 L235.9 635.0 L238.4 635.4 L240.9 635.8 L243.4 636.0 L245.9 636.3 L248.4 636.5 L250.9 636.6 L253.4 636.8 L255.9 636.9 L258.5 636.9 L261.0 636.9 L263.5 636.9 L266.1 636.9 L268.6 636.9 L271.1 636.8 L273.7 636.7 L276.2 636.6 L278.7 636.4 L281.3 636.3 L283.8 636.1 L286.3 636.0 L288.8 635.8 L291.3 635.6 L293.8 635.4 L296.3 635.2 L298.8 635.0 L301.3 634.9 L303.7 634.7 L306.2 634.5 L308.7 634.3 L311.2 634.1 L313.7 633.9 L316.2 633.7 L318.6 633.5 L321.1 633.3 L323.6 633.2 L326.1 633.0 L328.7 632.8 L331.2 632.7 L333.7 632.5 L336.2 632.4 L338.8 632.3 L341.3 632.2 L343.9 632.1 L346.4 632.1 L348.9 632.1 L351.5 632.1 L354.0 632.2 L356.5 632.4 L359.0 632.6 L361.5 632.9 L363.9 633.2 L366.4 633.6 L368.8 634.0 L371.2 634.6 L373.6 635.2 L376.0 635.9 L378.3 636.7 L380.6 637.6 L382.9 638.5 L385.1 639.6 L387.3 640.6 L389.5 641.8 L391.7 643.1 L393.8 644.4 L395.9 645.7 L398.0 647.2 L400.0 648.6 L402.1 650.1 L404.1 651.6 L406.1 653.2 L408.1 654.8 L410.1 656.3 L412.1 657.9 L414.1 659.5 L416.1 661.0 L418.1 662.6 L420.1 664.1 L422.1 665.6 L424.2 667.1 L426.2 668.5 L428.3 669.9 L430.4 671.3 L432.5 672.6 L434.6 673.8 L436.8 675.0 L439.0 676.1 L441.2 677.1 L443.5 678.1 L445.8 679.0 L448.1 679.9 L450.4 680.6 L452.8 681.4 L455.2 682.0 L457.6 682.7 L460.1 683.2 L462.5 683.8 L465.0 684.3 L467.4 684.7 L469.9 685.2 L472.4 685.6 L474.9 686.0 L477.4 686.3 L479.9 686.7 L482.5 687.1 L485.0 687.4 L487.5 687.7 L490.0 688.1 L492.5 688.4 L495.0 688.7 L497.5 689.0 L500.0 689.3 L502.5 689.7 L505.0 690.0 L507.4 690.3 L509.9 690.6 L512.4 690.9 L514.9 691.2 L517.4 691.6 L519.9 691.9 L522.4 692.2 L524.9 692.6 L527.4 692.9 L529.8 693.3 L532.3 693.6 L534.8 694.0 L537.3 694.3 L539.8 694.7 L542.2 695.1 L544.7 695.5 L547.2 695.8 L549.7 696.2 L552.2 696.6 L554.6 696.9 L557.1 697.3 L559.6 697.7 L562.1 698.0 L564.6 698.4 L567.0 698.8 L569.5 699.1 L572.0 699.5 L574.5 699.8 L577.0 700.2 L579.4 700.5 L581.9 700.8 L584.4 701.2 L586.9 701.5 L589.4 701.8 L591.9 702.1 L594.4 702.4 L596.8 702.6 L599.3 702.9 L601.8 703.2 L604.3 703.4 L606.8 703.6 L609.3 703.8 L611.8 704.1 L614.3 704.2 L616.8 704.4 L619.3 704.6 L621.8 704.7 L624.4 704.9 L626.9 705.0 L629.4 705.1 L631.9 705.2 L634.4 705.2 L636.9 705.3 L639.5 705.3 L642.0 705.3" stroke="#70AD47" stroke-width="2.55"/>
<path d="M139.4 410.0 L139.7 412.6 L140.0 415.1 L140.2 417.6 L140.5 420.2 L140.8 422.7 L141.1 425.2 L141.3 427.7 L141.6 430.2 L141.9 432.7 L142.2 435.2 L142.4 437.7 L142.7 440.2 L143.0 442.7 L143.3 445.2 L143.6 447.7 L143.9 450.2 L144.2 452.6 L144.4 455.1 L144.7 457.6 L145.0 460.1 L145.3 462.5 L145.6 465.0 L146.0 467.5 L146.3 469.9 L146.6 472.4 L146.9 474.9 L147.2 477.3 L147.6 479.8 L147.9 482.3 L148.2 484.7 L148.6 487.2 L148.9 489.6 L149.3 492.1 L149.7 494.6 L150.0 497.0 L150.4 499.5 L150.8 501.9 L151.2 504.4 L151.6 506.9 L152.0 509.3 L152.4 511.8 L152.8 514.3 L153.2 516.7 L153.6 519.2 L154.1 521.7 L154.5 524.1 L155.0 526.6 L155.4 529.1 L155.9 531.6 L156.4 534.1 L156.9 536.5 L157.4 539.0 L157.9 541.5 L158.4 544.0 L159.0 546.5 L159.5 549.0 L160.1 551.5 L160.6 554.0 L161.2 556.5 L161.8 559.0 L162.5 561.5 L163.1 563.9 L163.8 566.4 L164.6 568.8 L165.3 571.3 L166.1 573.7 L166.9 576.1 L167.8 578.4 L168.7 580.8 L169.7 583.1 L170.6 585.4 L171.7 587.7 L172.8 589.9 L173.9 592.1 L175.1 594.3 L176.4 596.4 L177.7 598.5 L179.1 600.6 L180.5 602.6 L182.0 604.6 L183.5 606.5 L185.2 608.4 L186.8 610.2 L188.6 612.0 L190.4 613.7 L192.2 615.4 L194.1 617.0 L196.1 618.5 L198.1 620.0 L200.1 621.4 L202.2 622.7 L204.4 624.0 L206.5 625.2 L208.8 626.3 L211.0 627.3 L213.3 628.3 L215.7 629.1 L218.1 629.9 L220.5 630.6 L222.9 631.2 L225.4 631.7 L227.9 632.1 L230.4 632.4 L232.9 632.7 L235.5 632.9 L238.1 633.0 L240.6 633.1 L243.2 633.2 L245.8 633.2 L248.3 633.3 L250.9 633.3 L253.4 633.3 L256.0 633.4 L258.5 633.4 L261.0 633.4 L263.5 633.5 L266.0 633.5 L268.4 633.5 L270.9 633.5 L273.4 633.5 L275.9 633.5 L278.3 633.4 L280.8 633.4 L283.3 633.3 L285.8 633.2 L288.2 633.1 L290.7 632.9 L293.2 632.7 L295.7 632.5 L298.2 632.3 L300.7 632.0 L303.2 631.7 L305.7 631.5 L308.2 631.2 L310.7 630.9 L313.3 630.6 L315.8 630.3 L318.3 630.0 L320.8 629.7 L323.3 629.4 L325.9 629.2 L328.4 628.9 L330.9 628.7 L333.4 628.5 L335.9 628.3 L338.4 628.2 L340.9 628.1 L343.4 628.0 L345.9 628.0 L348.4 628.0 L350.9 628.0 L353.4 628.2 L355.9 628.3 L358.4 628.5 L360.8 628.8 L363.3 629.2 L365.8 629.6 L368.2 630.0 L370.6 630.6 L373.1 631.2 L375.5 631.9 L377.9 632.7 L380.2 633.5 L382.6 634.5 L384.9 635.5 L387.1 636.6 L389.4 637.8 L391.5 639.0 L393.6 640.3 L395.7 641.7 L397.8 643.2 L399.8 644.7 L401.8 646.2 L403.7 647.8 L405.7 649.4 L407.6 651.0 L409.6 652.6 L411.5 654.3 L413.5 655.9 L415.4 657.5 L417.4 659.1 L419.4 660.6 L421.4 662.1 L423.4 663.6 L425.4 665.1 L427.5 666.5 L429.6 667.9 L431.7 669.2 L433.8 670.4 L436.0 671.6 L438.2 672.7 L440.4 673.7 L442.7 674.7 L445.0 675.5 L447.4 676.3 L449.7 677.1 L452.1 677.7 L454.6 678.4 L457.0 678.9 L459.5 679.4 L462.0 679.9 L464.5 680.4 L467.0 680.8 L469.5 681.2 L472.1 681.5 L474.6 681.9 L477.1 682.2 L479.6 682.6 L482.1 682.9 L484.7 683.2 L487.2 683.6 L489.6 683.9 L492.1 684.3 L494.6 684.6 L497.1 684.9 L499.6 685.3 L502.1 685.6 L504.5 685.9 L507.0 686.2 L509.5 686.6 L512.0 686.9 L514.4 687.2 L516.9 687.5 L519.4 687.8 L521.9 688.1 L524.3 688.4 L526.8 688.7 L529.3 689.0 L531.8 689.2 L534.3 689.5 L536.8 689.8 L539.3 690.0 L541.8 690.3 L544.3 690.5 L546.8 690.8 L549.3 691.0 L551.8 691.3 L554.3 691.5 L556.8 691.7 L559.3 691.9 L561.8 692.2 L564.3 692.4 L566.8 692.6 L569.3 692.8 L571.8 693.0 L574.3 693.2 L576.8 693.4 L579.4 693.6 L581.9 693.8 L584.4 693.9 L586.9 694.1 L589.4 694.3 L591.9 694.5 L594.4 694.7 L596.9 694.8 L599.4 695.0 L602.0 695.2 L604.5 695.3 L607.0 695.5 L609.5 695.7 L612.0 695.8 L614.5 696.0 L617.0 696.1 L619.5 696.3 L622.0 696.4 L624.5 696.6 L627.0 696.7 L629.5 696.9 L632.0 697.0 L634.5 697.2 L637.0 697.3 L639.5 697.5 L642.0 697.6" stroke="#264478" stroke-width="2.55"/>
<path d="M152.8 410.1 L153.1 412.5 L153.5 415.0 L153.8 417.5 L154.2 420.0 L154.5 422.5 L154.8 425.0 L155.2 427.5 L155.5 430.0 L155.8 432.5 L156.2 435.0 L156.5 437.5 L156.8 440.0 L157.1 442.5 L157.5 445.0 L157.8 447.5 L158.1 450.0 L158.5 452.5 L158.8 454.9 L159.2 457.4 L159.6 459.9 L159.9 462.4 L160.3 464.9 L160.7 467.4 L161.1 469.9 L161.5 472.4 L161.9 474.8 L162.3 477.3 L162.8 479.8 L163.2 482.3 L163.7 484.7 L164.2 487.2 L164.7 489.7 L165.2 492.1 L165.7 494.6 L166.2 497.0 L166.8 499.5 L167.4 501.9 L168.0 504.3 L168.6 506.8 L169.2 509.2 L169.9 511.6 L170.5 514.0 L171.2 516.4 L172.0 518.9 L172.7 521.2 L173.5 523.6 L174.3 526.0 L175.1 528.4 L175.9 530.8 L176.8 533.1 L177.7 535.5 L178.7 537.8 L179.6 540.2 L180.6 542.5 L181.6 544.8 L182.7 547.1 L183.8 549.4 L184.9 551.7 L186.0 554.0 L187.2 556.2 L188.4 558.4 L189.7 560.6 L191.0 562.8 L192.3 564.9 L193.7 567.0 L195.1 569.1 L196.6 571.1 L198.1 573.1 L199.6 575.1 L201.2 577.1 L202.9 578.9 L204.6 580.8 L206.3 582.6 L208.1 584.4 L209.9 586.1 L211.8 587.7 L213.7 589.3 L215.6 590.8 L217.6 592.3 L219.7 593.7 L221.8 595.0 L223.9 596.3 L226.1 597.5 L228.3 598.6 L230.6 599.6 L232.9 600.5 L235.3 601.4 L237.7 602.2 L240.1 602.9 L242.5 603.6 L245.0 604.2 L247.5 604.8 L250.0 605.3 L252.5 605.8 L255.0 606.2 L257.5 606.6 L260.0 607.0 L262.5 607.3 L265.0 607.7 L267.5 608.0 L270.0 608.3 L272.5 608.6 L275.0 608.8 L277.5 609.0 L280.0 609.2 L282.5 609.4 L284.9 609.6 L287.4 609.7 L289.9 609.8 L292.4 609.9 L294.9 610.0 L297.4 610.1 L299.9 610.2 L302.4 610.2 L304.8 610.2 L307.3 610.2 L309.8 610.2 L312.4 610.2 L314.9 610.1 L317.4 610.1 L319.9 610.0 L322.4 609.9 L325.0 609.8 L327.5 609.7 L330.0 609.5 L332.6 609.4 L335.2 609.2 L337.7 609.1 L340.3 608.9 L342.8 608.8 L345.4 608.7 L347.9 608.7 L350.5 608.6 L353.0 608.7 L355.5 608.7 L358.0 608.9 L360.5 609.1 L363.0 609.4 L365.4 609.7 L367.8 610.2 L370.2 610.8 L372.5 611.5 L374.9 612.2 L377.2 613.1 L379.4 614.1 L381.7 615.1 L383.9 616.2 L386.1 617.4 L388.3 618.7 L390.4 620.0 L392.5 621.4 L394.7 622.8 L396.8 624.2 L398.8 625.7 L400.9 627.2 L403.0 628.7 L405.0 630.3 L407.1 631.8 L409.1 633.3 L411.1 634.9 L413.1 636.4 L415.2 638.0 L417.2 639.5 L419.2 641.0 L421.2 642.5 L423.3 644.0 L425.3 645.4 L427.3 646.9 L429.4 648.3 L431.5 649.6 L433.6 651.0 L435.7 652.3 L437.8 653.5 L440.0 654.7 L442.2 655.9 L444.4 657.0 L446.6 658.1 L448.9 659.1 L451.1 660.1 L453.4 661.0 L455.7 661.9 L458.1 662.8 L460.4 663.6 L462.8 664.4 L465.2 665.1 L467.6 665.8 L470.0 666.5 L472.4 667.1 L474.9 667.8 L477.3 668.4 L479.8 668.9 L482.3 669.5 L484.8 670.0 L487.3 670.5 L489.8 670.9 L492.3 671.4 L494.8 671.8 L497.3 672.2 L499.8 672.6 L502.4 673.0 L504.9 673.4 L507.4 673.8 L509.9 674.1 L512.5 674.4 L515.0 674.8 L517.5 675.1 L520.0 675.4 L522.6 675.7 L525.1 676.1 L527.6 676.4 L530.1 676.7 L532.6 677.0 L535.1 677.3 L537.6 677.6 L540.1 677.9 L542.6 678.2 L545.0 678.5 L547.5 678.8 L550.0 679.1 L552.5 679.4 L555.0 679.7 L557.4 680.0 L559.9 680.3 L562.4 680.6 L564.9 680.9 L567.3 681.2 L569.8 681.5 L572.3 681.8 L574.7 682.1 L577.2 682.4 L579.7 682.7 L582.1 683.0 L584.6 683.3 L587.1 683.6 L589.6 683.9 L592.0 684.2 L594.5 684.5 L597.0 684.8 L599.5 685.1 L601.9 685.5 L604.4 685.8 L606.9 686.1 L609.4 686.5 L611.9 686.8 L614.4 687.1 L616.9 687.5 L619.4 687.8 L621.9 688.2 L624.4 688.6 L626.9 688.9 L629.4 689.3 L631.9 689.7 L634.4 690.1 L636.9 690.5 L639.5 690.9 L642.0 691.3" stroke="#9E480E" stroke-width="2.55"/>
<path d="M153.6 410.1 L153.9 412.6 L154.3 415.1 L154.6 417.6 L154.9 420.1 L155.3 422.6 L155.6 425.1 L155.9 427.6 L156.3 430.1 L156.6 432.5 L157.0 435.0 L157.4 437.5 L157.8 440.0 L158.2 442.5 L158.6 445.0 L159.0 447.5 L159.4 449.9 L159.8 452.4 L160.3 454.9 L160.8 457.4 L161.2 459.8 L161.7 462.3 L162.2 464.7 L162.8 467.2 L163.3 469.6 L163.9 472.1 L164.4 474.5 L165.0 477.0 L165.6 479.4 L166.3 481.8 L166.9 484.2 L167.6 486.6 L168.3 489.1 L169.0 491.5 L169.7 493.9 L170.5 496.3 L171.3 498.6 L172.1 501.0 L172.9 503.4 L173.8 505.8 L174.7 508.1 L175.6 510.5 L176.6 512.8 L177.5 515.2 L178.5 517.5 L179.6 519.8 L180.6 522.1 L181.7 524.4 L182.9 526.7 L184.0 529.0 L185.3 531.2 L186.5 533.4 L187.8 535.6 L189.2 537.7 L190.6 539.8 L192.1 541.9 L193.6 543.9 L195.2 545.8 L196.8 547.7 L198.5 549.5 L200.3 551.2 L202.2 552.8 L204.1 554.4 L206.1 555.9 L208.2 557.3 L210.3 558.7 L212.4 560.0 L214.6 561.2 L216.9 562.4 L219.2 563.5 L221.5 564.5 L223.8 565.5 L226.2 566.4 L228.6 567.3 L231.0 568.2 L233.3 569.0 L235.7 569.7 L238.2 570.4 L240.6 571.1 L243.0 571.7 L245.4 572.3 L247.8 572.8 L250.3 573.3 L252.7 573.8 L255.2 574.2 L257.6 574.6 L260.1 575.0 L262.5 575.3 L265.0 575.6 L267.5 575.8 L269.9 576.1 L272.4 576.3 L274.9 576.5 L277.4 576.6 L279.9 576.7 L282.4 576.8 L284.9 576.9 L287.5 577.0 L290.0 577.0 L292.5 577.0 L295.0 577.0 L297.6 577.0 L300.1 577.0 L302.7 577.0 L305.2 576.9 L307.8 576.8 L310.3 576.7 L312.9 576.6 L315.5 576.5 L318.0 576.4 L320.6 576.3 L323.2 576.2 L325.7 576.1 L328.3 576.1 L330.9 576.0 L333.4 576.0 L336.0 576.0 L338.5 576.0 L341.1 576.0 L343.6 576.1 L346.1 576.3 L348.6 576.4 L351.1 576.7 L353.5 577.0 L356.0 577.3 L358.4 577.7 L360.8 578.2 L363.2 578.7 L365.6 579.4 L368.0 580.1 L370.3 580.8 L372.6 581.7 L374.9 582.6 L377.1 583.6 L379.4 584.7 L381.6 585.9 L383.8 587.1 L385.9 588.3 L388.1 589.6 L390.2 591.0 L392.3 592.4 L394.4 593.8 L396.5 595.3 L398.5 596.8 L400.5 598.4 L402.5 600.0 L404.5 601.6 L406.5 603.2 L408.5 604.8 L410.4 606.5 L412.3 608.2 L414.2 609.8 L416.1 611.5 L418.0 613.2 L419.9 614.8 L421.8 616.4 L423.7 618.1 L425.6 619.7 L427.5 621.2 L429.4 622.8 L431.4 624.3 L433.4 625.7 L435.4 627.1 L437.5 628.5 L439.7 629.7 L441.9 631.0 L444.1 632.1 L446.3 633.3 L448.6 634.4 L450.9 635.5 L453.2 636.5 L455.5 637.5 L457.8 638.5 L460.2 639.5 L462.5 640.4 L464.8 641.3 L467.2 642.2 L469.5 643.1 L471.9 643.9 L474.3 644.8 L476.7 645.6 L479.0 646.3 L481.4 647.1 L483.8 647.9 L486.2 648.6 L488.6 649.3 L491.0 650.0 L493.5 650.6 L495.9 651.3 L498.3 651.9 L500.8 652.5 L503.2 653.1 L505.6 653.7 L508.1 654.3 L510.5 654.8 L513.0 655.4 L515.5 655.9 L517.9 656.4 L520.4 656.9 L522.9 657.4 L525.3 657.9 L527.8 658.4 L530.3 658.8 L532.8 659.3 L535.3 659.7 L537.8 660.1 L540.2 660.6 L542.7 661.0 L545.2 661.4 L547.7 661.8 L550.2 662.2 L552.7 662.6 L555.2 663.0 L557.7 663.3 L560.2 663.7 L562.7 664.1 L565.2 664.5 L567.7 664.8 L570.2 665.2 L572.7 665.6 L575.2 665.9 L577.7 666.3 L580.2 666.6 L582.7 667.0 L585.2 667.4 L587.7 667.7 L590.2 668.1 L592.7 668.5 L595.2 668.9 L597.7 669.2 L600.2 669.6 L602.7 670.0 L605.2 670.4 L607.6 670.8 L610.1 671.2 L612.6 671.6 L615.1 672.0 L617.5 672.5 L620.0 672.9 L622.5 673.3 L624.9 673.8 L627.4 674.3 L629.8 674.7 L632.3 675.2 L634.7 675.7 L637.1 676.2 L639.6 676.8 L642.0 677.3" stroke="#636363" stroke-width="2.55"/>
<path d="M168.8 410.2 L169.6 412.6 L170.3 415.0 L170.9 417.4 L171.6 419.9 L172.3 422.3 L172.9 424.7 L173.5 427.2 L174.1 429.6 L174.7 432.1 L175.3 434.5 L175.9 437.0 L176.4 439.5 L177.0 441.9 L177.6 444.4 L178.1 446.9 L178.7 449.3 L179.3 451.8 L179.9 454.3 L180.5 456.7 L181.1 459.2 L181.7 461.6 L182.4 464.1 L183.0 466.5 L183.7 468.9 L184.4 471.3 L185.1 473.8 L185.9 476.2 L186.7 478.5 L187.5 480.9 L188.3 483.3 L189.2 485.6 L190.1 488.0 L191.0 490.3 L192.0 492.6 L193.0 494.9 L194.1 497.1 L195.2 499.4 L196.3 501.6 L197.5 503.8 L198.8 506.0 L200.1 508.2 L201.4 510.3 L202.8 512.4 L204.3 514.5 L205.7 516.6 L207.3 518.6 L208.8 520.6 L210.4 522.6 L212.1 524.5 L213.8 526.4 L215.5 528.3 L217.3 530.1 L219.1 531.9 L220.9 533.6 L222.8 535.3 L224.7 537.0 L226.6 538.6 L228.6 540.1 L230.6 541.7 L232.6 543.1 L234.7 544.6 L236.8 545.9 L238.9 547.3 L241.0 548.5 L243.2 549.8 L245.4 551.0 L247.6 552.1 L249.8 553.2 L252.1 554.3 L254.4 555.3 L256.7 556.2 L259.0 557.2 L261.4 558.0 L263.7 558.9 L266.1 559.7 L268.5 560.4 L270.9 561.1 L273.4 561.8 L275.8 562.4 L278.3 563.0 L280.7 563.5 L283.2 564.0 L285.7 564.5 L288.2 564.9 L290.7 565.3 L293.3 565.7 L295.8 566.0 L298.3 566.3 L300.9 566.5 L303.4 566.7 L306.0 566.9 L308.5 567.0 L311.1 567.1 L313.6 567.2 L316.2 567.3 L318.8 567.4 L321.3 567.5 L323.9 567.5 L326.4 567.6 L329.0 567.7 L331.5 567.7 L334.1 567.8 L336.6 567.9 L339.1 568.1 L341.6 568.2 L344.1 568.4 L346.6 568.6 L349.1 568.8 L351.6 569.1 L354.1 569.5 L356.5 569.8 L359.0 570.3 L361.4 570.8 L363.8 571.3 L366.2 571.9 L368.6 572.6 L370.9 573.4 L373.2 574.2 L375.6 575.1 L377.9 576.0 L380.1 577.0 L382.4 578.1 L384.6 579.3 L386.8 580.5 L389.0 581.7 L391.1 583.0 L393.2 584.4 L395.3 585.8 L397.4 587.2 L399.4 588.8 L401.4 590.3 L403.4 591.9 L405.3 593.5 L407.3 595.1 L409.2 596.7 L411.2 598.4 L413.1 600.0 L415.0 601.7 L417.0 603.3 L418.9 604.9 L420.9 606.5 L422.9 608.0 L424.9 609.5 L426.9 611.0 L429.0 612.4 L431.1 613.8 L433.2 615.1 L435.4 616.3 L437.6 617.6 L439.8 618.7 L442.0 619.9 L444.2 621.0 L446.5 622.1 L448.7 623.1 L451.0 624.1 L453.3 625.1 L455.6 626.1 L458.0 627.0 L460.3 627.9 L462.6 628.8 L465.0 629.7 L467.3 630.6 L469.7 631.4 L472.1 632.2 L474.5 633.0 L476.8 633.8 L479.2 634.5 L481.6 635.3 L484.0 636.0 L486.4 636.7 L488.9 637.4 L491.3 638.1 L493.7 638.8 L496.1 639.4 L498.6 640.1 L501.0 640.7 L503.5 641.3 L505.9 641.9 L508.4 642.5 L510.8 643.1 L513.3 643.6 L515.7 644.2 L518.2 644.7 L520.7 645.3 L523.1 645.8 L525.6 646.3 L528.1 646.8 L530.6 647.3 L533.1 647.8 L535.6 648.3 L538.1 648.8 L540.5 649.3 L543.0 649.7 L545.5 650.2 L548.0 650.6 L550.5 651.1 L553.0 651.6 L555.5 652.0 L558.0 652.4 L560.5 652.9 L563.0 653.3 L565.5 653.8 L568.0 654.2 L570.5 654.6 L573.0 655.1 L575.5 655.5 L578.0 655.9 L580.5 656.4 L583.0 656.8 L585.5 657.2 L588.0 657.7 L590.5 658.1 L593.0 658.6 L595.4 659.0 L597.9 659.5 L600.4 659.9 L602.9 660.4 L605.4 660.9 L607.8 661.4 L610.3 661.8 L612.8 662.3 L615.2 662.8 L617.7 663.3 L620.1 663.8 L622.6 664.4 L625.0 664.9 L627.5 665.4 L629.9 666.0 L632.3 666.5 L634.8 667.1 L637.2 667.7 L639.6 668.3 L642.0 668.9" stroke="#997300" stroke-width="2.55"/>
<path d="M190.1 410.4 L191.0 412.7 L191.9 415.0 L192.8 417.3 L193.7 419.7 L194.5 422.1 L195.4 424.5 L196.2 426.9 L197.1 429.3 L198.0 431.7 L198.8 434.1 L199.7 436.5 L200.6 438.9 L201.5 441.3 L202.5 443.6 L203.4 446.0 L204.4 448.3 L205.5 450.6 L206.6 452.9 L207.7 455.2 L208.9 457.4 L210.1 459.5 L211.4 461.7 L212.7 463.8 L214.1 465.9 L215.5 467.9 L217.0 469.9 L218.5 471.8 L220.0 473.8 L221.6 475.7 L223.3 477.5 L224.9 479.4 L226.6 481.2 L228.4 482.9 L230.2 484.7 L232.0 486.4 L233.9 488.1 L235.7 489.7 L237.7 491.4 L239.6 493.0 L241.6 494.5 L243.6 496.1 L245.6 497.6 L247.6 499.1 L249.7 500.6 L251.8 502.1 L253.9 503.5 L256.0 504.9 L258.2 506.2 L260.3 507.6 L262.5 508.9 L264.7 510.1 L267.0 511.3 L269.2 512.5 L271.5 513.7 L273.7 514.8 L276.0 515.9 L278.3 516.9 L280.7 517.9 L283.0 518.8 L285.3 519.8 L287.7 520.6 L290.0 521.4 L292.4 522.2 L294.8 522.9 L297.2 523.6 L299.6 524.3 L302.0 524.9 L304.4 525.4 L306.8 525.9 L309.3 526.4 L311.7 526.9 L314.2 527.3 L316.6 527.7 L319.1 528.1 L321.6 528.4 L324.0 528.7 L326.5 529.0 L329.0 529.3 L331.5 529.5 L334.0 529.7 L336.5 530.0 L339.0 530.2 L341.6 530.4 L344.1 530.7 L346.6 531.0 L349.1 531.3 L351.6 531.7 L354.1 532.1 L356.6 532.6 L359.1 533.2 L361.6 533.8 L364.0 534.5 L366.5 535.2 L368.9 535.9 L371.3 536.8 L373.7 537.7 L376.0 538.6 L378.3 539.7 L380.6 540.7 L382.8 541.9 L385.0 543.1 L387.1 544.5 L389.2 545.8 L391.2 547.3 L393.1 548.8 L395.1 550.3 L397.0 551.9 L398.8 553.6 L400.7 555.3 L402.5 557.0 L404.3 558.7 L406.1 560.4 L408.0 562.1 L409.8 563.9 L411.6 565.6 L413.5 567.3 L415.3 569.0 L417.2 570.7 L419.1 572.4 L421.0 574.1 L422.9 575.7 L424.9 577.3 L426.8 578.9 L428.8 580.5 L430.8 582.0 L432.8 583.6 L434.8 585.0 L436.9 586.5 L438.9 587.9 L441.0 589.3 L443.1 590.6 L445.3 591.9 L447.4 593.2 L449.6 594.4 L451.8 595.6 L454.0 596.8 L456.2 598.0 L458.5 599.1 L460.7 600.1 L463.0 601.2 L465.3 602.2 L467.6 603.2 L469.9 604.2 L472.2 605.1 L474.6 606.0 L476.9 606.9 L479.3 607.8 L481.7 608.7 L484.0 609.5 L486.4 610.4 L488.8 611.2 L491.2 612.0 L493.6 612.7 L496.0 613.5 L498.5 614.3 L500.9 615.0 L503.3 615.8 L505.7 616.5 L508.2 617.2 L510.6 617.9 L513.0 618.6 L515.5 619.3 L517.9 620.0 L520.3 620.7 L522.8 621.4 L525.2 622.1 L527.6 622.8 L530.0 623.5 L532.5 624.2 L534.9 624.9 L537.3 625.6 L539.7 626.3 L542.1 627.0 L544.6 627.7 L547.0 628.4 L549.4 629.1 L551.8 629.7 L554.2 630.4 L556.6 631.1 L559.0 631.8 L561.5 632.5 L563.9 633.1 L566.3 633.8 L568.7 634.5 L571.1 635.1 L573.5 635.8 L576.0 636.4 L578.4 637.1 L580.8 637.7 L583.2 638.4 L585.6 639.0 L588.1 639.6 L590.5 640.3 L592.9 640.9 L595.3 641.5 L597.8 642.2 L600.2 642.8 L602.6 643.4 L605.1 644.0 L607.5 644.6 L610.0 645.2 L612.4 645.8 L614.8 646.4 L617.3 647.0 L619.7 647.5 L622.2 648.1 L624.7 648.7 L627.1 649.2 L629.6 649.8 L632.1 650.4 L634.5 650.9 L637.0 651.4 L639.5 652.0 L642.0 652.5" stroke="#255E91" stroke-width="2.55"/>
<path d="M97.0 410.1 L97.5 412.6 L97.9 415.0 L98.4 417.5 L98.9 420.0 L99.3 422.4 L99.7 424.9 L100.2 427.4 L100.6 429.9 L101.0 432.4 L101.4 434.8 L101.8 437.3 L102.2 439.8 L102.6 442.3 L103.0 444.8 L103.4 447.2 L103.8 449.7 L104.2 452.2 L104.5 454.7 L104.9 457.2 L105.3 459.7 L105.6 462.2 L106.0 464.7 L106.3 467.1 L106.7 469.6 L107.0 472.1 L107.4 474.6 L107.7 477.1 L108.1 479.6 L108.4 482.1 L108.8 484.6 L109.1 487.0 L109.5 489.5 L109.8 492.0 L110.1 494.5 L110.5 497.0 L110.8 499.5 L111.2 502.0 L111.5 504.5 L111.9 506.9 L112.2 509.4 L112.6 511.9 L112.9 514.4 L113.3 516.9 L113.6 519.4 L114.0 521.8 L114.4 524.3 L114.7 526.8 L115.1 529.3 L115.5 531.8 L115.9 534.2 L116.2 536.7 L116.6 539.2 L117.0 541.7 L117.4 544.1 L117.8 546.6 L118.3 549.1 L118.7 551.6 L119.1 554.0 L119.5 556.5 L120.0 559.0 L120.4 561.4 L120.9 563.9 L121.3 566.4 L121.8 568.8 L122.3 571.3 L122.8 573.7 L123.3 576.2 L123.8 578.6 L124.3 581.1 L124.8 583.5 L125.4 586.0 L125.9 588.4 L126.5 590.9 L127.0 593.3 L127.6 595.8 L128.2 598.2 L128.8 600.6 L129.4 603.1 L130.1 605.5 L130.7 607.9 L131.4 610.4 L132.0 612.8 L132.7 615.2 L133.4 617.6 L134.1 620.0 L134.8 622.5 L135.6 624.9 L136.3 627.3 L137.1 629.7 L137.9 632.1 L138.7 634.5 L139.5 636.9 L140.3 639.3 L141.2 641.7 L142.0 644.1 L142.9 646.5 L143.8 648.8 L144.7 651.2 L145.6 653.6 L146.6 656.0 L147.6 658.3 L148.6 660.7 L149.7 663.0 L150.8 665.2 L151.9 667.5 L153.1 669.6 L154.4 671.8 L155.8 673.9 L157.2 675.9 L158.8 677.8 L160.4 679.6 L162.1 681.4 L163.9 683.1 L165.8 684.7 L167.7 686.2 L169.8 687.6 L171.9 688.8 L174.1 690.0 L176.3 691.1 L178.6 692.0 L181.0 692.8 L183.4 693.5 L185.8 694.1 L188.3 694.6 L190.8 695.0 L193.3 695.4 L195.8 695.7 L198.3 695.9 L200.8 696.1 L203.3 696.3 L205.8 696.4 L208.3 696.5 L210.9 696.5 L213.4 696.5 L215.9 696.4 L218.4 696.4 L220.9 696.2 L223.4 696.1 L225.9 695.9 L228.4 695.7 L230.9 695.4 L233.4 695.2 L235.9 694.9 L238.4 694.5 L240.9 694.2 L243.4 693.8 L245.9 693.4 L248.4 693.0 L250.9 692.6 L253.4 692.1 L255.9 691.7 L258.4 691.2 L260.9 690.7 L263.4 690.3 L265.8 689.8 L268.3 689.3 L270.8 688.8 L273.3 688.3 L275.8 687.8 L278.2 687.2 L280.7 686.7 L283.2 686.2 L285.6 685.7 L288.1 685.2 L290.5 684.7 L293.0 684.2 L295.5 683.8 L297.9 683.3 L300.4 682.8 L302.9 682.4 L305.3 681.9 L307.8 681.5 L310.3 681.1 L312.7 680.6 L315.2 680.3 L317.7 679.9 L320.2 679.5 L322.6 679.2 L325.1 678.9 L327.6 678.6 L330.1 678.3 L332.6 678.0 L335.1 677.8 L337.6 677.6 L340.1 677.4 L342.6 677.2 L345.1 677.1 L347.6 677.0 L350.1 676.9 L352.7 676.9 L355.2 676.9 L357.7 676.9 L360.3 677.0 L362.8 677.1 L365.3 677.3 L367.8 677.5 L370.3 677.8 L372.8 678.1 L375.3 678.5 L377.7 679.0 L380.1 679.5 L382.5 680.2 L384.9 680.8 L387.3 681.6 L389.6 682.5 L391.9 683.4 L394.1 684.4 L396.3 685.6 L398.5 686.8 L400.6 688.1 L402.7 689.5 L404.8 691.0 L406.8 692.4 L408.9 694.0 L410.9 695.5 L413.0 697.0 L415.0 698.5 L417.1 699.9 L419.2 701.3 L421.3 702.7 L423.5 703.9 L425.7 705.1 L427.9 706.2 L430.1 707.2 L432.4 708.2 L434.7 709.1 L437.1 709.9 L439.4 710.7 L441.8 711.4 L444.2 712.1 L446.6 712.7 L449.0 713.3 L451.4 713.8 L453.9 714.3 L456.3 714.8 L458.8 715.2 L461.3 715.7 L463.7 716.1 L466.2 716.4 L468.7 716.8 L471.2 717.1 L473.6 717.4 L476.1 717.7 L478.6 718.0 L481.1 718.2 L483.6 718.5 L486.1 718.7 L488.6 718.9 L491.1 719.0 L493.6 719.2 L496.1 719.3 L498.6 719.5 L501.2 719.6 L503.7 719.7 L506.2 719.8 L508.7 719.8 L511.2 719.9 L513.8 719.9 L516.3 720.0 L518.8 720.0 L521.4 720.0 L523.9 720.0 L526.4 720.0 L528.9 720.0 L531.5 720.0 L534.0 720.0 L536.6 719.9 L539.1 719.9 L541.6 719.9 L544.2 719.8 L546.7 719.8 L549.2 719.7 L551.8 719.7 L554.3 719.6 L556.8 719.5 L559.4 719.5 L561.9 719.4 L564.4 719.4 L567.0 719.3 L569.5 719.2 L572.0 719.2 L574.6 719.1 L577.1 719.1 L579.6 719.0 L582.2 719.0 L584.7 719.0 L587.2 718.9 L589.7 718.9 L592.2 718.9 L594.8 718.9 L597.3 718.9 L599.8 718.9 L602.3 718.9 L604.8 719.0 L607.3 719.0 L609.8 719.0 L612.3 719.1 L614.8 719.2 L617.3 719.3 L619.8 719.4 L622.3 719.5 L624.7 719.6 L627.2 719.8 L629.7 719.9 L632.2 720.1 L634.6 720.3 L637.1 720.5 L639.5 720.7 L642.0 721.0" stroke="#6A37A2" stroke-width="2.7" stroke-dasharray="4.1 6.7" stroke-dashoffset="2.25" stroke-linecap="round"/>
</g>
<path d="M86.4 416.6 V720.9 H641.6" fill="none" stroke="#000" stroke-width="2.1" stroke-linejoin="round"/>
<text x="71.5" y="422.0" text-anchor="end" class="t">0.4</text>
<text x="71.5" y="498.1" text-anchor="end" class="t">0.3</text>
<text x="71.5" y="574.1" text-anchor="end" class="t">0.2</text>
<text x="71.5" y="650.2" text-anchor="end" class="t">0.1</text>
<text x="71.5" y="726.4" text-anchor="end" class="t">0</text>
<text x="86.3" y="746.5" text-anchor="middle" class="t">230</text>
<text x="197.3" y="746.5" text-anchor="middle" class="t">250</text>
<text x="308.3" y="746.5" text-anchor="middle" class="t">270</text>
<text x="419.3" y="746.5" text-anchor="middle" class="t">290</text>
<text x="530.3" y="746.5" text-anchor="middle" class="t">310</text>
<text x="641.3" y="746.5" text-anchor="middle" class="t">330</text>
<text x="364.2" y="772.1" text-anchor="middle" class="ax" font-size="18.5">Wavelength (nm)</text>
<text transform="translate(41.1 569.4) rotate(-90)" text-anchor="middle" class="ax" font-size="18.5">Absorbance</text>
<text x="572.6" y="457.2" class="num">2</text>
<path d="M487.8 552.7 L486.8 470.3" stroke="#F5B800" stroke-width="5.6" fill="none"/>
<path d="M486.8 454.4 L479.0 469.3 L494.6 469.3 Z" fill="#F5B800"/>
<clipPath id="c3"><rect x="86" y="812.4" width="557.5" height="313.1"/></clipPath>
<g clip-path="url(#c3)" fill="none" stroke-linejoin="round" stroke-linecap="round">
<path d="M124.6 806.0 L125.0 808.5 L125.3 811.0 L125.5 813.5 L125.8 815.9 L126.1 818.4 L126.4 820.9 L126.6 823.4 L126.9 825.9 L127.1 828.4 L127.4 830.9 L127.6 833.3 L127.8 835.8 L128.1 838.3 L128.3 840.8 L128.5 843.3 L128.7 845.9 L128.9 848.4 L129.1 850.9 L129.3 853.4 L129.5 855.9 L129.7 858.4 L129.9 860.9 L130.1 863.4 L130.3 865.9 L130.5 868.5 L130.7 871.0 L130.9 873.5 L131.1 876.0 L131.3 878.5 L131.5 881.0 L131.7 883.6 L132.0 886.1 L132.2 888.6 L132.4 891.1 L132.6 893.6 L132.8 896.2 L133.0 898.7 L133.3 901.2 L133.5 903.7 L133.7 906.2 L134.0 908.7 L134.2 911.2 L134.5 913.8 L134.7 916.3 L135.0 918.8 L135.3 921.3 L135.6 923.8 L135.9 926.3 L136.2 928.8 L136.5 931.3 L136.8 933.8 L137.1 936.3 L137.5 938.8 L137.8 941.3 L138.2 943.8 L138.5 946.3 L138.9 948.8 L139.3 951.2 L139.7 953.7 L140.1 956.2 L140.5 958.7 L141.0 961.1 L141.4 963.6 L141.9 966.1 L142.4 968.5 L142.9 971.0 L143.4 973.5 L143.9 975.9 L144.5 978.4 L145.1 980.8 L145.6 983.2 L146.2 985.7 L146.8 988.1 L147.5 990.5 L148.1 993.0 L148.8 995.4 L149.5 997.8 L150.2 1000.2 L150.9 1002.6 L151.6 1005.0 L152.4 1007.4 L153.2 1009.8 L154.0 1012.2 L154.8 1014.5 L155.6 1016.9 L156.5 1019.3 L157.4 1021.6 L158.3 1024.0 L159.3 1026.3 L160.2 1028.7 L161.2 1031.0 L162.2 1033.3 L163.2 1035.7 L164.3 1038.0 L165.4 1040.3 L166.5 1042.6 L167.6 1044.9 L168.8 1047.1 L170.0 1049.3 L171.3 1051.5 L172.7 1053.6 L174.1 1055.6 L175.6 1057.6 L177.2 1059.5 L178.8 1061.2 L180.6 1062.9 L182.4 1064.4 L184.4 1065.8 L186.5 1067.1 L188.6 1068.3 L190.9 1069.3 L193.2 1070.3 L195.6 1071.1 L198.0 1071.9 L200.5 1072.6 L203.0 1073.2 L205.5 1073.7 L208.1 1074.2 L210.6 1074.6 L213.1 1075.0 L215.6 1075.3 L218.2 1075.6 L220.7 1075.8 L223.2 1076.0 L225.7 1076.2 L228.2 1076.3 L230.7 1076.3 L233.2 1076.4 L235.7 1076.3 L238.2 1076.3 L240.7 1076.2 L243.2 1076.1 L245.7 1075.9 L248.2 1075.8 L250.7 1075.6 L253.2 1075.3 L255.7 1075.1 L258.1 1074.8 L260.6 1074.4 L263.1 1074.1 L265.6 1073.8 L268.1 1073.4 L270.6 1073.0 L273.0 1072.6 L275.5 1072.1 L278.0 1071.7 L280.5 1071.3 L283.0 1070.8 L285.5 1070.3 L288.0 1069.8 L290.5 1069.3 L293.0 1068.8 L295.5 1068.3 L298.0 1067.8 L300.5 1067.3 L303.0 1066.8 L305.5 1066.4 L308.0 1065.9 L310.5 1065.4 L313.0 1064.9 L315.6 1064.5 L318.1 1064.1 L320.6 1063.7 L323.1 1063.3 L325.6 1062.9 L328.1 1062.6 L330.6 1062.3 L333.1 1062.0 L335.6 1061.7 L338.1 1061.5 L340.6 1061.4 L343.1 1061.2 L345.5 1061.1 L348.0 1061.1 L350.5 1061.1 L353.0 1061.2 L355.4 1061.3 L357.9 1061.4 L360.4 1061.6 L362.8 1061.9 L365.3 1062.2 L367.7 1062.6 L370.1 1063.1 L372.6 1063.6 L375.0 1064.2 L377.4 1064.9 L379.7 1065.6 L382.1 1066.5 L384.4 1067.4 L386.7 1068.4 L389.0 1069.5 L391.2 1070.6 L393.3 1071.9 L395.5 1073.2 L397.6 1074.6 L399.7 1076.0 L401.7 1077.5 L403.8 1079.0 L405.8 1080.5 L407.8 1082.1 L409.8 1083.6 L411.8 1085.2 L413.9 1086.7 L415.9 1088.2 L418.0 1089.7 L420.0 1091.2 L422.1 1092.6 L424.2 1094.0 L426.3 1095.3 L428.4 1096.5 L430.6 1097.8 L432.8 1098.9 L435.0 1100.0 L437.3 1101.0 L439.5 1101.9 L441.8 1102.8 L444.2 1103.6 L446.5 1104.4 L448.9 1105.2 L451.3 1105.8 L453.7 1106.5 L456.1 1107.1 L458.5 1107.6 L461.0 1108.1 L463.5 1108.6 L465.9 1109.0 L468.4 1109.4 L470.9 1109.8 L473.5 1110.1 L476.0 1110.4 L478.5 1110.7 L481.0 1111.0 L483.6 1111.3 L486.1 1111.5 L488.7 1111.7 L491.2 1111.9 L493.8 1112.1 L496.3 1112.3 L498.9 1112.5 L501.4 1112.7 L504.0 1112.9 L506.5 1113.0 L509.0 1113.2 L511.5 1113.4 L514.1 1113.5 L516.6 1113.7 L519.1 1113.9 L521.6 1114.0 L524.1 1114.2 L526.6 1114.4 L529.1 1114.5 L531.7 1114.7 L534.2 1114.8 L536.7 1115.0 L539.2 1115.1 L541.7 1115.3 L544.1 1115.4 L546.6 1115.5 L549.1 1115.7 L551.6 1115.8 L554.1 1115.9 L556.6 1116.1 L559.1 1116.2 L561.6 1116.3 L564.1 1116.4 L566.6 1116.6 L569.1 1116.7 L571.6 1116.8 L574.0 1116.9 L576.5 1117.0 L579.0 1117.1 L581.5 1117.2 L584.0 1117.3 L586.5 1117.3 L589.0 1117.4 L591.5 1117.5 L594.0 1117.6 L596.5 1117.7 L599.0 1117.7 L601.5 1117.8 L604.0 1117.9 L606.5 1117.9 L609.0 1118.0 L611.6 1118.0 L614.1 1118.1 L616.6 1118.1 L619.1 1118.1 L621.6 1118.2 L624.2 1118.2 L626.7 1118.2 L629.2 1118.3 L631.8 1118.3 L634.3 1118.3 L636.9 1118.3 L639.4 1118.3 L642.0 1118.3" stroke="#A5A5A5" stroke-width="2.55"/>
<path d="M129.7 806.0 L129.9 808.5 L130.1 811.0 L130.4 813.5 L130.6 816.0 L130.8 818.5 L131.0 820.9 L131.2 823.4 L131.5 825.9 L131.7 828.4 L131.9 830.9 L132.1 833.4 L132.3 836.0 L132.5 838.5 L132.7 841.0 L132.9 843.5 L133.2 846.0 L133.4 848.5 L133.6 851.0 L133.8 853.5 L134.0 856.0 L134.2 858.6 L134.4 861.1 L134.7 863.6 L134.9 866.1 L135.1 868.6 L135.4 871.2 L135.6 873.7 L135.8 876.2 L136.1 878.7 L136.3 881.2 L136.6 883.7 L136.8 886.2 L137.1 888.8 L137.3 891.3 L137.6 893.8 L137.9 896.3 L138.1 898.8 L138.4 901.3 L138.7 903.8 L139.0 906.3 L139.3 908.8 L139.6 911.3 L139.9 913.8 L140.3 916.3 L140.6 918.8 L140.9 921.3 L141.3 923.8 L141.6 926.2 L142.0 928.7 L142.4 931.2 L142.8 933.7 L143.2 936.1 L143.6 938.6 L144.0 941.1 L144.4 943.5 L144.8 946.0 L145.3 948.4 L145.7 950.9 L146.2 953.3 L146.7 955.7 L147.2 958.2 L147.7 960.6 L148.2 963.0 L148.7 965.4 L149.3 967.9 L149.8 970.3 L150.4 972.7 L150.9 975.1 L151.5 977.6 L152.1 980.0 L152.7 982.4 L153.4 984.8 L154.0 987.3 L154.7 989.7 L155.3 992.2 L156.0 994.6 L156.7 997.1 L157.4 999.5 L158.1 1002.0 L158.8 1004.5 L159.6 1006.9 L160.3 1009.4 L161.1 1011.9 L161.9 1014.4 L162.8 1016.8 L163.7 1019.2 L164.6 1021.7 L165.6 1024.0 L166.6 1026.4 L167.7 1028.6 L168.9 1030.9 L170.1 1033.1 L171.4 1035.2 L172.8 1037.2 L174.3 1039.2 L175.9 1041.1 L177.5 1042.9 L179.3 1044.6 L181.1 1046.3 L183.0 1047.8 L185.0 1049.3 L187.0 1050.7 L189.1 1052.1 L191.3 1053.3 L193.5 1054.5 L195.7 1055.6 L198.0 1056.7 L200.3 1057.7 L202.6 1058.6 L204.9 1059.4 L207.3 1060.2 L209.7 1060.9 L212.1 1061.5 L214.5 1062.1 L216.9 1062.6 L219.4 1063.1 L221.8 1063.5 L224.3 1063.8 L226.8 1064.1 L229.3 1064.4 L231.8 1064.6 L234.3 1064.7 L236.9 1064.8 L239.4 1064.9 L241.9 1064.9 L244.5 1064.9 L247.0 1064.9 L249.6 1064.8 L252.1 1064.7 L254.7 1064.6 L257.2 1064.4 L259.8 1064.2 L262.3 1064.0 L264.9 1063.7 L267.4 1063.5 L270.0 1063.2 L272.5 1062.9 L275.0 1062.5 L277.5 1062.2 L280.0 1061.9 L282.5 1061.5 L285.0 1061.1 L287.5 1060.7 L290.0 1060.4 L292.4 1060.0 L294.9 1059.6 L297.4 1059.2 L299.9 1058.8 L302.3 1058.4 L304.8 1058.0 L307.3 1057.6 L309.7 1057.2 L312.2 1056.9 L314.6 1056.5 L317.1 1056.2 L319.6 1055.8 L322.0 1055.5 L324.5 1055.2 L327.0 1054.9 L329.4 1054.6 L331.9 1054.4 L334.4 1054.2 L336.8 1054.0 L339.3 1053.8 L341.8 1053.6 L344.3 1053.5 L346.8 1053.4 L349.3 1053.4 L351.8 1053.4 L354.3 1053.4 L356.8 1053.4 L359.3 1053.5 L361.9 1053.7 L364.4 1053.9 L366.9 1054.2 L369.4 1054.5 L371.9 1054.9 L374.5 1055.4 L377.0 1055.9 L379.4 1056.5 L381.9 1057.2 L384.3 1058.0 L386.7 1058.9 L389.0 1059.9 L391.3 1061.0 L393.5 1062.2 L395.6 1063.5 L397.8 1064.8 L399.8 1066.2 L401.9 1067.7 L403.9 1069.3 L405.8 1070.8 L407.8 1072.5 L409.7 1074.1 L411.7 1075.8 L413.6 1077.5 L415.5 1079.2 L417.4 1080.9 L419.3 1082.6 L421.2 1084.2 L423.1 1085.8 L425.0 1087.4 L427.0 1089.0 L429.0 1090.5 L431.0 1091.9 L433.1 1093.3 L435.2 1094.5 L437.3 1095.7 L439.5 1096.7 L441.8 1097.6 L444.1 1098.3 L446.5 1098.9 L448.9 1099.4 L451.4 1099.9 L453.9 1100.3 L456.4 1100.6 L458.9 1100.9 L461.4 1101.2 L463.9 1101.5 L466.5 1101.8 L469.0 1102.0 L471.5 1102.3 L474.0 1102.6 L476.5 1102.9 L479.0 1103.1 L481.5 1103.4 L484.0 1103.7 L486.5 1103.9 L489.0 1104.2 L491.5 1104.4 L494.0 1104.7 L496.5 1104.9 L499.0 1105.2 L501.5 1105.4 L504.0 1105.6 L506.6 1105.9 L509.1 1106.1 L511.6 1106.3 L514.1 1106.5 L516.6 1106.7 L519.1 1106.9 L521.6 1107.1 L524.1 1107.3 L526.6 1107.5 L529.1 1107.7 L531.6 1107.9 L534.1 1108.1 L536.6 1108.3 L539.1 1108.5 L541.6 1108.6 L544.1 1108.8 L546.6 1109.0 L549.1 1109.1 L551.6 1109.3 L554.2 1109.5 L556.7 1109.6 L559.2 1109.8 L561.7 1109.9 L564.2 1110.1 L566.7 1110.2 L569.2 1110.4 L571.7 1110.5 L574.2 1110.7 L576.7 1110.8 L579.2 1110.9 L581.7 1111.1 L584.2 1111.2 L586.8 1111.3 L589.3 1111.5 L591.8 1111.6 L594.3 1111.7 L596.8 1111.8 L599.3 1112.0 L601.8 1112.1 L604.3 1112.2 L606.8 1112.3 L609.3 1112.5 L611.9 1112.6 L614.4 1112.7 L616.9 1112.8 L619.4 1112.9 L621.9 1113.1 L624.4 1113.2 L626.9 1113.3 L629.4 1113.4 L631.9 1113.5 L634.5 1113.6 L637.0 1113.8 L639.5 1113.9 L642.0 1114.0" stroke="#FFC000" stroke-width="2.55"/>
<path d="M133.5 806.0 L133.8 808.6 L134.0 811.1 L134.2 813.6 L134.4 816.2 L134.6 818.7 L134.9 821.2 L135.1 823.8 L135.3 826.3 L135.5 828.8 L135.8 831.3 L136.0 833.8 L136.2 836.3 L136.5 838.8 L136.7 841.3 L136.9 843.8 L137.2 846.3 L137.4 848.8 L137.7 851.3 L137.9 853.8 L138.2 856.3 L138.4 858.8 L138.7 861.3 L138.9 863.7 L139.2 866.2 L139.5 868.7 L139.7 871.2 L140.0 873.6 L140.3 876.1 L140.5 878.6 L140.8 881.1 L141.1 883.5 L141.4 886.0 L141.7 888.5 L142.0 890.9 L142.3 893.4 L142.6 895.9 L142.9 898.4 L143.2 900.8 L143.5 903.3 L143.8 905.8 L144.1 908.3 L144.4 910.7 L144.7 913.2 L145.1 915.7 L145.4 918.2 L145.7 920.7 L146.1 923.1 L146.4 925.6 L146.8 928.1 L147.1 930.6 L147.5 933.1 L147.8 935.6 L148.2 938.1 L148.6 940.6 L148.9 943.1 L149.3 945.6 L149.7 948.2 L150.1 950.7 L150.5 953.2 L150.9 955.7 L151.3 958.3 L151.7 960.8 L152.2 963.3 L152.6 965.8 L153.1 968.4 L153.5 970.9 L154.0 973.4 L154.5 975.9 L155.1 978.4 L155.6 980.9 L156.2 983.4 L156.8 985.9 L157.4 988.3 L158.1 990.8 L158.7 993.2 L159.4 995.7 L160.2 998.1 L161.0 1000.5 L161.8 1002.9 L162.6 1005.2 L163.5 1007.6 L164.4 1009.9 L165.3 1012.2 L166.3 1014.5 L167.4 1016.7 L168.4 1019.0 L169.6 1021.2 L170.7 1023.3 L171.9 1025.5 L173.2 1027.6 L174.5 1029.7 L175.9 1031.8 L177.3 1033.8 L178.8 1035.8 L180.3 1037.8 L181.9 1039.7 L183.6 1041.6 L185.3 1043.4 L187.1 1045.1 L189.0 1046.8 L190.9 1048.3 L192.9 1049.8 L195.0 1051.1 L197.2 1052.3 L199.4 1053.5 L201.7 1054.5 L204.1 1055.5 L206.4 1056.4 L208.8 1057.2 L211.2 1057.9 L213.6 1058.6 L216.1 1059.3 L218.5 1059.9 L220.9 1060.4 L223.4 1060.9 L225.9 1061.3 L228.3 1061.7 L230.8 1062.1 L233.3 1062.4 L235.7 1062.7 L238.2 1062.9 L240.7 1063.1 L243.2 1063.2 L245.7 1063.3 L248.2 1063.4 L250.7 1063.4 L253.2 1063.4 L255.7 1063.4 L258.2 1063.3 L260.7 1063.2 L263.3 1063.0 L265.8 1062.9 L268.3 1062.7 L270.8 1062.5 L273.3 1062.2 L275.9 1061.9 L278.4 1061.6 L280.9 1061.3 L283.4 1061.0 L286.0 1060.6 L288.5 1060.2 L291.0 1059.8 L293.5 1059.4 L296.1 1058.9 L298.6 1058.5 L301.1 1058.0 L303.6 1057.6 L306.2 1057.1 L308.7 1056.6 L311.2 1056.2 L313.7 1055.7 L316.2 1055.2 L318.7 1054.8 L321.2 1054.4 L323.7 1054.0 L326.2 1053.6 L328.7 1053.2 L331.2 1052.9 L333.7 1052.6 L336.2 1052.3 L338.7 1052.0 L341.1 1051.8 L343.6 1051.7 L346.1 1051.5 L348.6 1051.5 L351.0 1051.4 L353.5 1051.4 L355.9 1051.5 L358.4 1051.6 L360.8 1051.8 L363.3 1052.1 L365.7 1052.4 L368.1 1052.8 L370.5 1053.2 L372.9 1053.7 L375.3 1054.3 L377.7 1055.0 L380.1 1055.7 L382.5 1056.5 L384.8 1057.4 L387.2 1058.3 L389.5 1059.3 L391.8 1060.4 L394.0 1061.5 L396.3 1062.7 L398.5 1063.9 L400.7 1065.2 L402.8 1066.6 L405.0 1068.0 L407.0 1069.5 L409.1 1071.0 L411.1 1072.5 L413.1 1074.1 L415.0 1075.8 L416.9 1077.4 L418.8 1079.1 L420.8 1080.7 L422.7 1082.3 L424.7 1083.8 L426.7 1085.3 L428.7 1086.7 L430.8 1088.0 L432.9 1089.2 L435.1 1090.3 L437.3 1091.3 L439.6 1092.2 L441.9 1093.0 L444.3 1093.8 L446.7 1094.5 L449.1 1095.1 L451.5 1095.7 L454.0 1096.3 L456.5 1096.8 L458.9 1097.2 L461.4 1097.7 L463.9 1098.1 L466.4 1098.5 L468.9 1098.9 L471.4 1099.3 L473.9 1099.6 L476.4 1099.9 L479.0 1100.2 L481.5 1100.5 L484.0 1100.8 L486.5 1101.1 L489.0 1101.4 L491.5 1101.6 L494.1 1101.9 L496.6 1102.1 L499.1 1102.4 L501.6 1102.6 L504.1 1102.9 L506.6 1103.1 L509.1 1103.3 L511.6 1103.6 L514.2 1103.8 L516.7 1104.0 L519.2 1104.3 L521.7 1104.5 L524.2 1104.7 L526.7 1104.9 L529.2 1105.2 L531.7 1105.4 L534.2 1105.6 L536.7 1105.8 L539.2 1106.0 L541.7 1106.2 L544.2 1106.4 L546.7 1106.7 L549.2 1106.9 L551.7 1107.1 L554.2 1107.3 L556.7 1107.5 L559.2 1107.6 L561.7 1107.8 L564.2 1108.0 L566.7 1108.2 L569.2 1108.4 L571.7 1108.6 L574.2 1108.8 L576.7 1108.9 L579.2 1109.1 L581.7 1109.3 L584.2 1109.5 L586.7 1109.6 L589.2 1109.8 L591.7 1109.9 L594.2 1110.1 L596.7 1110.3 L599.2 1110.4 L601.7 1110.6 L604.2 1110.7 L606.7 1110.8 L609.2 1111.0 L611.8 1111.1 L614.3 1111.3 L616.8 1111.4 L619.3 1111.5 L621.8 1111.6 L624.3 1111.8 L626.9 1111.9 L629.4 1112.0 L631.9 1112.1 L634.4 1112.2 L636.9 1112.3 L639.5 1112.4 L642.0 1112.5" stroke="#5B9BD5" stroke-width="2.55"/>
<path d="M137.4 806.0 L137.7 808.5 L137.9 811.1 L138.2 813.6 L138.4 816.1 L138.7 818.7 L138.9 821.2 L139.2 823.7 L139.4 826.2 L139.6 828.7 L139.9 831.2 L140.1 833.7 L140.4 836.3 L140.6 838.8 L140.8 841.3 L141.1 843.8 L141.3 846.3 L141.6 848.8 L141.8 851.3 L142.1 853.8 L142.3 856.2 L142.6 858.7 L142.8 861.2 L143.1 863.7 L143.3 866.2 L143.6 868.7 L143.8 871.2 L144.1 873.7 L144.4 876.2 L144.6 878.6 L144.9 881.1 L145.2 883.6 L145.5 886.1 L145.7 888.6 L146.0 891.1 L146.3 893.5 L146.6 896.0 L146.9 898.5 L147.3 901.0 L147.6 903.5 L147.9 906.0 L148.2 908.4 L148.6 910.9 L148.9 913.4 L149.3 915.9 L149.6 918.4 L150.0 920.9 L150.4 923.4 L150.8 925.8 L151.1 928.3 L151.5 930.8 L152.0 933.3 L152.4 935.8 L152.8 938.3 L153.2 940.8 L153.7 943.3 L154.1 945.8 L154.6 948.3 L155.1 950.8 L155.6 953.3 L156.1 955.8 L156.6 958.3 L157.1 960.8 L157.7 963.3 L158.3 965.8 L158.8 968.3 L159.5 970.7 L160.1 973.2 L160.8 975.7 L161.4 978.1 L162.2 980.6 L162.9 983.0 L163.7 985.4 L164.5 987.8 L165.4 990.1 L166.3 992.5 L167.2 994.8 L168.1 997.1 L169.2 999.4 L170.2 1001.6 L171.3 1003.9 L172.5 1006.1 L173.6 1008.3 L174.9 1010.4 L176.2 1012.5 L177.5 1014.6 L178.9 1016.7 L180.4 1018.7 L181.9 1020.6 L183.5 1022.6 L185.1 1024.5 L186.8 1026.3 L188.5 1028.2 L190.3 1029.9 L192.2 1031.6 L194.1 1033.3 L196.0 1034.9 L198.0 1036.4 L200.1 1037.8 L202.2 1039.2 L204.3 1040.5 L206.5 1041.8 L208.7 1043.0 L211.0 1044.0 L213.3 1045.0 L215.6 1046.0 L218.0 1046.8 L220.4 1047.6 L222.8 1048.3 L225.3 1048.9 L227.7 1049.5 L230.2 1050.0 L232.7 1050.4 L235.3 1050.8 L237.8 1051.1 L240.3 1051.4 L242.9 1051.6 L245.4 1051.8 L248.0 1051.9 L250.5 1052.0 L253.1 1052.0 L255.6 1052.1 L258.1 1052.0 L260.6 1052.0 L263.2 1051.9 L265.7 1051.7 L268.2 1051.6 L270.7 1051.4 L273.2 1051.2 L275.7 1051.0 L278.2 1050.8 L280.6 1050.5 L283.1 1050.2 L285.6 1049.9 L288.1 1049.6 L290.6 1049.3 L293.1 1049.0 L295.6 1048.7 L298.1 1048.4 L300.5 1048.0 L303.0 1047.7 L305.5 1047.4 L308.0 1047.1 L310.5 1046.8 L313.0 1046.5 L315.5 1046.2 L318.0 1045.9 L320.5 1045.7 L323.0 1045.4 L325.6 1045.2 L328.1 1045.0 L330.6 1044.8 L333.1 1044.7 L335.7 1044.5 L338.2 1044.4 L340.8 1044.4 L343.3 1044.4 L345.8 1044.4 L348.4 1044.4 L350.9 1044.5 L353.4 1044.6 L355.9 1044.8 L358.4 1045.0 L360.9 1045.3 L363.4 1045.6 L365.9 1046.0 L368.3 1046.5 L370.7 1047.0 L373.1 1047.5 L375.5 1048.1 L377.9 1048.8 L380.2 1049.6 L382.6 1050.4 L384.9 1051.3 L387.1 1052.3 L389.3 1053.3 L391.6 1054.4 L393.7 1055.6 L395.9 1056.9 L398.0 1058.2 L400.1 1059.6 L402.2 1061.0 L404.2 1062.4 L406.3 1063.9 L408.3 1065.4 L410.4 1067.0 L412.4 1068.5 L414.4 1070.1 L416.5 1071.6 L418.5 1073.1 L420.6 1074.6 L422.6 1076.1 L424.7 1077.6 L426.8 1079.0 L428.9 1080.4 L431.0 1081.7 L433.1 1083.0 L435.3 1084.2 L437.5 1085.3 L439.8 1086.4 L442.0 1087.3 L444.3 1088.2 L446.7 1089.0 L449.1 1089.7 L451.5 1090.3 L453.9 1090.9 L456.3 1091.4 L458.8 1091.9 L461.3 1092.3 L463.8 1092.7 L466.3 1093.1 L468.8 1093.4 L471.3 1093.7 L473.9 1094.0 L476.4 1094.3 L478.9 1094.6 L481.5 1094.8 L484.0 1095.1 L486.5 1095.4 L489.0 1095.7 L491.6 1096.0 L494.1 1096.3 L496.6 1096.6 L499.1 1096.9 L501.6 1097.2 L504.1 1097.5 L506.6 1097.8 L509.1 1098.1 L511.6 1098.4 L514.1 1098.7 L516.6 1098.9 L519.1 1099.2 L521.6 1099.5 L524.1 1099.8 L526.6 1100.0 L529.1 1100.3 L531.6 1100.5 L534.1 1100.7 L536.6 1101.0 L539.1 1101.2 L541.6 1101.4 L544.1 1101.7 L546.6 1101.9 L549.1 1102.1 L551.6 1102.3 L554.1 1102.5 L556.6 1102.7 L559.1 1102.9 L561.6 1103.1 L564.1 1103.3 L566.7 1103.5 L569.2 1103.6 L571.7 1103.8 L574.2 1104.0 L576.7 1104.2 L579.2 1104.4 L581.7 1104.5 L584.2 1104.7 L586.7 1104.9 L589.2 1105.0 L591.8 1105.2 L594.3 1105.4 L596.8 1105.5 L599.3 1105.7 L601.8 1105.9 L604.3 1106.0 L606.8 1106.2 L609.3 1106.4 L611.9 1106.6 L614.4 1106.7 L616.9 1106.9 L619.4 1107.1 L621.9 1107.2 L624.4 1107.4 L626.9 1107.6 L629.4 1107.8 L632.0 1107.9 L634.5 1108.1 L637.0 1108.3 L639.5 1108.5 L642.0 1108.7" stroke="#70AD47" stroke-width="2.55"/>
<path d="M140.9 806.0 L141.2 808.5 L141.5 811.1 L141.8 813.6 L142.1 816.1 L142.4 818.6 L142.7 821.1 L143.0 823.6 L143.3 826.1 L143.6 828.6 L143.9 831.1 L144.1 833.6 L144.4 836.1 L144.7 838.6 L145.0 841.1 L145.2 843.6 L145.5 846.1 L145.8 848.6 L146.1 851.1 L146.3 853.6 L146.6 856.1 L146.9 858.6 L147.2 861.0 L147.4 863.5 L147.7 866.0 L148.0 868.5 L148.3 871.0 L148.6 873.5 L148.9 876.0 L149.2 878.4 L149.5 880.9 L149.8 883.4 L150.1 885.9 L150.4 888.4 L150.8 890.9 L151.1 893.3 L151.4 895.8 L151.8 898.3 L152.1 900.8 L152.5 903.3 L152.9 905.7 L153.2 908.2 L153.6 910.7 L154.0 913.2 L154.4 915.6 L154.8 918.1 L155.3 920.6 L155.7 923.1 L156.2 925.5 L156.6 928.0 L157.1 930.5 L157.6 933.0 L158.1 935.4 L158.6 937.9 L159.1 940.4 L159.6 942.9 L160.2 945.3 L160.7 947.8 L161.3 950.3 L161.9 952.8 L162.5 955.2 L163.1 957.7 L163.8 960.2 L164.4 962.6 L165.1 965.1 L165.9 967.5 L166.6 969.9 L167.4 972.4 L168.2 974.8 L169.0 977.1 L169.9 979.5 L170.8 981.9 L171.7 984.2 L172.7 986.5 L173.8 988.8 L174.8 991.0 L175.9 993.3 L177.1 995.5 L178.3 997.6 L179.6 999.8 L180.9 1001.9 L182.2 1003.9 L183.7 1006.0 L185.1 1008.0 L186.7 1009.9 L188.3 1011.8 L189.9 1013.7 L191.7 1015.5 L193.4 1017.3 L195.3 1019.0 L197.2 1020.7 L199.1 1022.3 L201.1 1023.8 L203.2 1025.3 L205.3 1026.7 L207.4 1028.0 L209.6 1029.2 L211.8 1030.3 L214.1 1031.4 L216.4 1032.4 L218.8 1033.3 L221.1 1034.1 L223.5 1034.9 L225.9 1035.5 L228.4 1036.2 L230.8 1036.7 L233.3 1037.2 L235.8 1037.7 L238.3 1038.1 L240.8 1038.4 L243.4 1038.7 L245.9 1038.9 L248.4 1039.1 L250.9 1039.3 L253.4 1039.4 L255.9 1039.5 L258.5 1039.6 L261.0 1039.6 L263.5 1039.6 L266.0 1039.6 L268.5 1039.5 L271.0 1039.4 L273.4 1039.3 L275.9 1039.2 L278.4 1039.1 L280.9 1038.9 L283.4 1038.7 L285.9 1038.5 L288.4 1038.3 L290.9 1038.1 L293.4 1037.8 L295.9 1037.6 L298.3 1037.3 L300.8 1037.0 L303.3 1036.8 L305.8 1036.5 L308.3 1036.2 L310.8 1035.9 L313.3 1035.6 L315.8 1035.3 L318.3 1035.1 L320.9 1034.8 L323.4 1034.5 L325.9 1034.2 L328.4 1034.0 L330.9 1033.7 L333.5 1033.5 L336.0 1033.3 L338.5 1033.1 L341.1 1032.9 L343.6 1032.8 L346.1 1032.7 L348.7 1032.7 L351.2 1032.7 L353.7 1032.7 L356.2 1032.8 L358.7 1033.0 L361.2 1033.2 L363.6 1033.5 L366.1 1033.8 L368.5 1034.3 L371.0 1034.8 L373.4 1035.4 L375.7 1036.1 L378.1 1036.9 L380.4 1037.8 L382.7 1038.7 L385.0 1039.7 L387.3 1040.8 L389.5 1042.0 L391.7 1043.2 L393.9 1044.5 L396.0 1045.8 L398.1 1047.2 L400.2 1048.7 L402.2 1050.2 L404.2 1051.8 L406.2 1053.4 L408.1 1055.0 L410.0 1056.7 L411.9 1058.3 L413.9 1060.0 L415.8 1061.6 L417.7 1063.2 L419.7 1064.8 L421.6 1066.4 L423.7 1067.9 L425.7 1069.3 L427.8 1070.7 L429.9 1072.0 L432.0 1073.3 L434.1 1074.5 L436.3 1075.7 L438.5 1076.8 L440.8 1077.9 L443.0 1078.9 L445.3 1079.9 L447.6 1080.8 L449.9 1081.6 L452.3 1082.4 L454.7 1083.1 L457.1 1083.8 L459.5 1084.5 L461.9 1085.1 L464.3 1085.7 L466.8 1086.3 L469.2 1086.8 L471.7 1087.3 L474.2 1087.7 L476.7 1088.2 L479.2 1088.6 L481.7 1088.9 L484.2 1089.3 L486.8 1089.7 L489.3 1090.0 L491.8 1090.3 L494.3 1090.6 L496.9 1091.0 L499.4 1091.3 L501.9 1091.6 L504.4 1091.9 L506.9 1092.2 L509.5 1092.5 L512.0 1092.8 L514.5 1093.0 L517.0 1093.3 L519.5 1093.6 L522.0 1093.9 L524.5 1094.2 L527.0 1094.5 L529.5 1094.8 L532.0 1095.0 L534.5 1095.3 L537.0 1095.6 L539.5 1095.9 L542.0 1096.1 L544.4 1096.4 L546.9 1096.7 L549.4 1096.9 L551.9 1097.2 L554.4 1097.4 L556.9 1097.7 L559.4 1097.9 L561.8 1098.2 L564.3 1098.4 L566.8 1098.7 L569.3 1098.9 L571.8 1099.2 L574.3 1099.4 L576.8 1099.6 L579.2 1099.9 L581.7 1100.1 L584.2 1100.3 L586.7 1100.5 L589.2 1100.8 L591.7 1101.0 L594.2 1101.2 L596.7 1101.4 L599.2 1101.6 L601.7 1101.8 L604.2 1102.0 L606.7 1102.2 L609.2 1102.4 L611.7 1102.6 L614.2 1102.8 L616.7 1103.0 L619.2 1103.2 L621.7 1103.4 L624.3 1103.5 L626.8 1103.7 L629.3 1103.9 L631.8 1104.1 L634.4 1104.2 L636.9 1104.4 L639.5 1104.5 L642.0 1104.7" stroke="#264478" stroke-width="2.55"/>
<path d="M146.6 806.0 L147.0 808.5 L147.4 811.0 L147.8 813.5 L148.1 816.0 L148.5 818.5 L148.9 821.0 L149.2 823.5 L149.5 826.0 L149.9 828.5 L150.2 831.0 L150.5 833.5 L150.8 836.0 L151.1 838.5 L151.4 841.0 L151.7 843.5 L152.0 846.0 L152.3 848.5 L152.6 851.0 L152.9 853.5 L153.2 856.0 L153.5 858.5 L153.8 860.9 L154.1 863.4 L154.4 865.9 L154.7 868.4 L155.0 870.9 L155.3 873.4 L155.6 875.9 L155.9 878.4 L156.3 880.8 L156.6 883.3 L156.9 885.8 L157.3 888.3 L157.6 890.8 L158.0 893.3 L158.3 895.7 L158.7 898.2 L159.1 900.7 L159.5 903.2 L159.9 905.6 L160.3 908.1 L160.8 910.6 L161.2 913.0 L161.7 915.5 L162.2 918.0 L162.6 920.5 L163.2 922.9 L163.7 925.4 L164.2 927.8 L164.8 930.3 L165.4 932.8 L166.0 935.2 L166.6 937.7 L167.2 940.1 L167.9 942.6 L168.5 945.0 L169.2 947.5 L170.0 949.9 L170.7 952.4 L171.5 954.8 L172.3 957.3 L173.1 959.7 L173.9 962.1 L174.8 964.5 L175.7 966.9 L176.7 969.3 L177.7 971.6 L178.7 973.9 L179.7 976.3 L180.8 978.5 L182.0 980.8 L183.1 983.0 L184.4 985.2 L185.6 987.3 L186.9 989.4 L188.3 991.5 L189.7 993.5 L191.1 995.5 L192.6 997.5 L194.2 999.3 L195.8 1001.2 L197.5 1003.0 L199.2 1004.7 L201.0 1006.3 L202.9 1007.9 L204.8 1009.5 L206.7 1011.0 L208.8 1012.4 L210.8 1013.7 L213.0 1015.0 L215.2 1016.2 L217.4 1017.4 L219.7 1018.5 L222.0 1019.5 L224.4 1020.5 L226.7 1021.4 L229.2 1022.3 L231.6 1023.1 L234.1 1023.8 L236.5 1024.5 L239.0 1025.1 L241.5 1025.7 L244.0 1026.3 L246.6 1026.7 L249.1 1027.1 L251.6 1027.5 L254.1 1027.8 L256.6 1028.1 L259.1 1028.3 L261.6 1028.5 L264.1 1028.6 L266.6 1028.7 L269.1 1028.8 L271.6 1028.8 L274.1 1028.8 L276.5 1028.7 L279.0 1028.7 L281.5 1028.6 L284.0 1028.4 L286.5 1028.3 L289.0 1028.1 L291.5 1027.9 L293.9 1027.7 L296.4 1027.5 L298.9 1027.3 L301.4 1027.1 L303.9 1026.8 L306.4 1026.6 L308.9 1026.3 L311.4 1026.1 L313.9 1025.8 L316.4 1025.6 L319.0 1025.3 L321.5 1025.1 L324.0 1024.9 L326.5 1024.7 L329.1 1024.5 L331.6 1024.3 L334.2 1024.1 L336.7 1024.0 L339.3 1023.9 L341.8 1023.8 L344.4 1023.8 L346.9 1023.8 L349.5 1023.8 L352.0 1023.9 L354.5 1024.1 L357.0 1024.3 L359.5 1024.6 L362.0 1024.9 L364.4 1025.3 L366.9 1025.8 L369.3 1026.4 L371.6 1027.1 L374.0 1027.8 L376.3 1028.7 L378.6 1029.6 L380.9 1030.6 L383.1 1031.6 L385.3 1032.8 L387.4 1034.0 L389.5 1035.3 L391.6 1036.7 L393.7 1038.2 L395.7 1039.7 L397.7 1041.2 L399.7 1042.8 L401.6 1044.4 L403.6 1046.1 L405.5 1047.7 L407.5 1049.4 L409.4 1051.0 L411.4 1052.6 L413.3 1054.3 L415.3 1055.9 L417.3 1057.4 L419.3 1058.9 L421.3 1060.4 L423.4 1061.9 L425.5 1063.2 L427.6 1064.6 L429.7 1065.8 L431.9 1067.0 L434.1 1068.1 L436.4 1069.1 L438.7 1070.1 L441.0 1071.0 L443.3 1071.9 L445.7 1072.7 L448.0 1073.6 L450.4 1074.3 L452.8 1075.1 L455.2 1075.8 L457.6 1076.5 L460.0 1077.2 L462.4 1077.9 L464.8 1078.5 L467.2 1079.1 L469.7 1079.7 L472.1 1080.3 L474.5 1080.9 L477.0 1081.4 L479.4 1081.9 L481.9 1082.5 L484.3 1082.9 L486.8 1083.4 L489.3 1083.9 L491.7 1084.3 L494.2 1084.7 L496.7 1085.2 L499.2 1085.6 L501.7 1085.9 L504.2 1086.3 L506.6 1086.7 L509.1 1087.0 L511.6 1087.4 L514.1 1087.7 L516.7 1088.0 L519.2 1088.3 L521.7 1088.6 L524.2 1088.9 L526.7 1089.1 L529.2 1089.4 L531.7 1089.6 L534.3 1089.9 L536.8 1090.1 L539.3 1090.4 L541.8 1090.6 L544.3 1090.8 L546.9 1091.0 L549.4 1091.2 L551.9 1091.5 L554.5 1091.7 L557.0 1091.9 L559.5 1092.1 L562.0 1092.2 L564.6 1092.4 L567.1 1092.6 L569.6 1092.8 L572.2 1093.0 L574.7 1093.2 L577.2 1093.4 L579.7 1093.6 L582.2 1093.8 L584.8 1094.0 L587.3 1094.2 L589.8 1094.4 L592.3 1094.6 L594.8 1094.8 L597.3 1095.0 L599.9 1095.2 L602.4 1095.4 L604.9 1095.6 L607.4 1095.9 L609.9 1096.1 L612.4 1096.3 L614.8 1096.6 L617.3 1096.9 L619.8 1097.1 L622.3 1097.4 L624.8 1097.7 L627.3 1098.0 L629.7 1098.3 L632.2 1098.6 L634.6 1098.9 L637.1 1099.3 L639.5 1099.6 L642.0 1100.0" stroke="#9E480E" stroke-width="2.55"/>
<path d="M152.4 806.1 L152.8 808.6 L153.1 811.1 L153.5 813.6 L153.9 816.1 L154.2 818.6 L154.6 821.1 L155.0 823.6 L155.3 826.1 L155.7 828.5 L156.1 831.0 L156.4 833.5 L156.8 836.0 L157.2 838.5 L157.6 840.9 L158.0 843.4 L158.3 845.9 L158.7 848.4 L159.1 850.8 L159.5 853.3 L159.9 855.8 L160.3 858.2 L160.7 860.7 L161.2 863.2 L161.6 865.6 L162.0 868.1 L162.4 870.5 L162.9 873.0 L163.3 875.5 L163.8 877.9 L164.2 880.4 L164.7 882.8 L165.2 885.3 L165.6 887.7 L166.1 890.2 L166.6 892.7 L167.1 895.1 L167.6 897.6 L168.2 900.0 L168.7 902.5 L169.2 904.9 L169.8 907.4 L170.3 909.8 L170.9 912.3 L171.5 914.8 L172.0 917.2 L172.6 919.7 L173.2 922.1 L173.9 924.6 L174.5 927.0 L175.1 929.5 L175.8 932.0 L176.5 934.4 L177.2 936.9 L177.9 939.3 L178.6 941.7 L179.4 944.1 L180.2 946.5 L181.1 948.9 L181.9 951.3 L182.8 953.6 L183.8 955.9 L184.8 958.2 L185.9 960.5 L187.0 962.7 L188.1 964.9 L189.3 967.0 L190.6 969.2 L191.9 971.2 L193.3 973.3 L194.7 975.3 L196.2 977.2 L197.8 979.2 L199.4 981.0 L201.1 982.8 L202.9 984.6 L204.7 986.3 L206.6 988.0 L208.5 989.6 L210.5 991.2 L212.5 992.7 L214.6 994.2 L216.7 995.6 L218.8 997.0 L221.0 998.3 L223.2 999.6 L225.5 1000.8 L227.7 1002.0 L230.0 1003.1 L232.4 1004.1 L234.7 1005.2 L237.1 1006.1 L239.5 1007.0 L241.9 1007.9 L244.3 1008.6 L246.7 1009.4 L249.2 1010.1 L251.6 1010.7 L254.0 1011.3 L256.5 1011.8 L258.9 1012.2 L261.4 1012.7 L263.8 1013.0 L266.3 1013.3 L268.7 1013.6 L271.2 1013.9 L273.7 1014.1 L276.1 1014.3 L278.6 1014.4 L281.1 1014.5 L283.6 1014.6 L286.1 1014.6 L288.5 1014.7 L291.0 1014.7 L293.5 1014.6 L296.0 1014.6 L298.5 1014.6 L301.0 1014.5 L303.5 1014.4 L306.1 1014.3 L308.6 1014.2 L311.1 1014.1 L313.6 1014.0 L316.1 1013.9 L318.7 1013.8 L321.2 1013.7 L323.7 1013.6 L326.3 1013.6 L328.8 1013.5 L331.3 1013.4 L333.9 1013.4 L336.4 1013.3 L339.0 1013.3 L341.5 1013.3 L344.1 1013.4 L346.6 1013.5 L349.1 1013.6 L351.6 1013.7 L354.1 1013.9 L356.6 1014.1 L359.1 1014.4 L361.6 1014.7 L364.0 1015.1 L366.4 1015.6 L368.8 1016.1 L371.2 1016.6 L373.6 1017.3 L375.9 1018.0 L378.2 1018.7 L380.4 1019.6 L382.7 1020.5 L384.9 1021.5 L387.1 1022.6 L389.2 1023.8 L391.3 1025.1 L393.3 1026.5 L395.4 1027.9 L397.4 1029.4 L399.4 1031.0 L401.3 1032.6 L403.3 1034.2 L405.2 1035.9 L407.1 1037.6 L409.0 1039.3 L411.0 1041.0 L412.9 1042.7 L414.8 1044.4 L416.8 1046.1 L418.7 1047.7 L420.7 1049.3 L422.7 1050.8 L424.8 1052.3 L426.8 1053.7 L428.9 1055.1 L431.0 1056.4 L433.2 1057.7 L435.3 1058.9 L437.5 1060.1 L439.7 1061.2 L441.9 1062.3 L444.2 1063.3 L446.4 1064.3 L448.7 1065.2 L451.0 1066.1 L453.4 1067.0 L455.7 1067.8 L458.1 1068.6 L460.4 1069.3 L462.8 1070.0 L465.3 1070.7 L467.7 1071.4 L470.1 1072.0 L472.6 1072.6 L475.0 1073.1 L477.5 1073.7 L480.0 1074.2 L482.4 1074.7 L484.9 1075.2 L487.4 1075.7 L489.9 1076.1 L492.4 1076.5 L494.9 1077.0 L497.4 1077.4 L499.9 1077.8 L502.4 1078.2 L504.9 1078.6 L507.4 1078.9 L509.9 1079.3 L512.4 1079.7 L514.9 1080.1 L517.4 1080.4 L519.9 1080.8 L522.4 1081.1 L524.9 1081.5 L527.4 1081.8 L529.9 1082.1 L532.3 1082.5 L534.8 1082.8 L537.3 1083.1 L539.8 1083.4 L542.3 1083.7 L544.8 1084.0 L547.3 1084.3 L549.7 1084.6 L552.2 1084.9 L554.7 1085.2 L557.2 1085.5 L559.7 1085.8 L562.2 1086.1 L564.7 1086.4 L567.1 1086.7 L569.6 1087.0 L572.1 1087.2 L574.6 1087.5 L577.1 1087.8 L579.6 1088.1 L582.0 1088.3 L584.5 1088.6 L587.0 1088.9 L589.5 1089.2 L592.0 1089.4 L594.5 1089.7 L597.0 1090.0 L599.5 1090.3 L602.0 1090.6 L604.5 1090.8 L606.9 1091.1 L609.4 1091.4 L611.9 1091.7 L614.4 1092.0 L616.9 1092.3 L619.4 1092.5 L621.9 1092.8 L624.4 1093.1 L626.9 1093.4 L629.4 1093.7 L632.0 1094.0 L634.5 1094.4 L637.0 1094.7 L639.5 1095.0 L642.0 1095.3" stroke="#636363" stroke-width="2.55"/>
<path d="M169.2 806.2 L169.8 808.6 L170.4 811.1 L171.0 813.5 L171.6 816.0 L172.2 818.4 L172.8 820.9 L173.3 823.3 L173.9 825.8 L174.4 828.3 L174.9 830.7 L175.5 833.2 L176.0 835.6 L176.5 838.1 L177.0 840.5 L177.5 843.0 L178.1 845.4 L178.6 847.9 L179.1 850.3 L179.7 852.8 L180.2 855.2 L180.8 857.7 L181.4 860.1 L182.0 862.5 L182.6 865.0 L183.2 867.4 L183.8 869.8 L184.5 872.2 L185.1 874.6 L185.8 877.0 L186.5 879.4 L187.3 881.8 L188.0 884.2 L188.8 886.6 L189.6 889.0 L190.5 891.3 L191.4 893.7 L192.3 896.0 L193.2 898.4 L194.2 900.7 L195.2 903.0 L196.3 905.3 L197.3 907.6 L198.4 909.9 L199.6 912.2 L200.8 914.4 L202.0 916.6 L203.3 918.8 L204.6 921.0 L205.9 923.1 L207.3 925.2 L208.7 927.3 L210.1 929.4 L211.6 931.4 L213.2 933.4 L214.7 935.3 L216.3 937.2 L218.0 939.1 L219.7 940.9 L221.4 942.7 L223.2 944.4 L225.0 946.1 L226.9 947.8 L228.8 949.4 L230.7 950.9 L232.7 952.4 L234.8 953.8 L236.8 955.2 L239.0 956.5 L241.1 957.8 L243.3 959.0 L245.5 960.2 L247.8 961.4 L250.0 962.5 L252.3 963.5 L254.6 964.6 L257.0 965.6 L259.3 966.5 L261.7 967.4 L264.0 968.3 L266.4 969.2 L268.8 970.0 L271.2 970.7 L273.6 971.5 L276.0 972.1 L278.4 972.8 L280.9 973.3 L283.3 973.9 L285.8 974.4 L288.3 974.8 L290.8 975.2 L293.3 975.5 L295.8 975.7 L298.3 975.9 L300.8 976.1 L303.3 976.3 L305.8 976.4 L308.4 976.4 L310.9 976.5 L313.4 976.5 L316.0 976.5 L318.5 976.5 L321.1 976.5 L323.6 976.5 L326.1 976.5 L328.7 976.5 L331.2 976.5 L333.7 976.6 L336.3 976.6 L338.8 976.7 L341.3 976.8 L343.8 977.0 L346.3 977.2 L348.8 977.4 L351.2 977.7 L353.7 978.0 L356.2 978.4 L358.6 978.8 L361.0 979.4 L363.4 979.9 L365.8 980.6 L368.2 981.3 L370.6 982.1 L372.9 982.9 L375.2 983.9 L377.5 984.8 L379.7 985.9 L381.9 987.0 L384.1 988.1 L386.3 989.4 L388.4 990.7 L390.5 992.0 L392.5 993.5 L394.5 995.0 L396.5 996.5 L398.4 998.1 L400.3 999.7 L402.2 1001.4 L404.1 1003.1 L406.0 1004.8 L407.9 1006.5 L409.7 1008.2 L411.6 1010.0 L413.5 1011.7 L415.4 1013.3 L417.3 1015.0 L419.2 1016.6 L421.2 1018.3 L423.1 1019.9 L425.1 1021.4 L427.1 1023.0 L429.1 1024.5 L431.1 1026.0 L433.1 1027.4 L435.2 1028.8 L437.3 1030.2 L439.4 1031.5 L441.6 1032.8 L443.7 1034.0 L445.9 1035.2 L448.1 1036.3 L450.3 1037.4 L452.6 1038.4 L454.9 1039.4 L457.2 1040.4 L459.5 1041.3 L461.8 1042.2 L464.1 1043.1 L466.5 1043.9 L468.9 1044.7 L471.3 1045.5 L473.7 1046.2 L476.1 1046.9 L478.5 1047.6 L481.0 1048.3 L483.4 1048.9 L485.9 1049.5 L488.3 1050.1 L490.8 1050.7 L493.3 1051.3 L495.8 1051.8 L498.3 1052.4 L500.8 1052.9 L503.3 1053.4 L505.8 1053.9 L508.2 1054.4 L510.7 1054.8 L513.2 1055.3 L515.7 1055.8 L518.2 1056.3 L520.7 1056.7 L523.2 1057.2 L525.7 1057.6 L528.2 1058.1 L530.6 1058.5 L533.1 1059.0 L535.6 1059.4 L538.1 1059.9 L540.5 1060.3 L543.0 1060.8 L545.5 1061.2 L547.9 1061.7 L550.4 1062.1 L552.9 1062.5 L555.3 1062.9 L557.8 1063.4 L560.2 1063.8 L562.7 1064.2 L565.2 1064.6 L567.6 1065.1 L570.1 1065.5 L572.5 1065.9 L575.0 1066.3 L577.5 1066.7 L579.9 1067.1 L582.4 1067.6 L584.8 1068.0 L587.3 1068.4 L589.8 1068.8 L592.2 1069.2 L594.7 1069.6 L597.2 1070.0 L599.6 1070.4 L602.1 1070.8 L604.6 1071.2 L607.1 1071.6 L609.5 1072.0 L612.0 1072.4 L614.5 1072.7 L617.0 1073.1 L619.5 1073.5 L622.0 1073.9 L624.5 1074.3 L627.0 1074.7 L629.5 1075.1 L632.0 1075.5 L634.5 1075.9 L637.0 1076.2 L639.5 1076.6 L642.0 1077.0" stroke="#997300" stroke-width="2.55"/>
<path d="M206.2 806.5 L207.2 808.8 L208.2 811.1 L209.2 813.4 L210.2 815.7 L211.2 818.1 L212.2 820.4 L213.2 822.7 L214.2 825.0 L215.2 827.3 L216.3 829.6 L217.4 831.9 L218.5 834.1 L219.6 836.4 L220.8 838.6 L222.0 840.8 L223.2 842.9 L224.5 845.1 L225.8 847.2 L227.2 849.3 L228.6 851.4 L230.0 853.4 L231.5 855.4 L233.0 857.4 L234.6 859.4 L236.1 861.3 L237.8 863.2 L239.4 865.1 L241.1 867.0 L242.8 868.8 L244.5 870.6 L246.3 872.4 L248.1 874.2 L249.9 875.9 L251.8 877.6 L253.7 879.3 L255.6 880.9 L257.5 882.6 L259.5 884.2 L261.4 885.7 L263.4 887.3 L265.5 888.8 L267.5 890.3 L269.6 891.7 L271.7 893.1 L273.8 894.5 L275.9 895.9 L278.1 897.2 L280.3 898.5 L282.5 899.7 L284.7 900.9 L286.9 902.0 L289.2 903.1 L291.5 904.2 L293.8 905.2 L296.1 906.1 L298.4 907.0 L300.8 907.8 L303.1 908.6 L305.5 909.4 L307.9 910.0 L310.3 910.6 L312.8 911.2 L315.2 911.7 L317.7 912.1 L320.1 912.5 L322.6 912.9 L325.1 913.3 L327.6 913.6 L330.1 913.9 L332.6 914.2 L335.1 914.5 L337.6 914.8 L340.1 915.1 L342.6 915.5 L345.1 915.9 L347.5 916.3 L350.0 916.7 L352.5 917.2 L354.9 917.8 L357.3 918.4 L359.8 919.1 L362.2 919.8 L364.5 920.6 L366.9 921.5 L369.2 922.5 L371.5 923.5 L373.8 924.6 L376.0 925.7 L378.3 926.9 L380.4 928.1 L382.6 929.4 L384.7 930.8 L386.8 932.2 L388.8 933.7 L390.8 935.3 L392.7 936.9 L394.6 938.5 L396.4 940.2 L398.2 942.0 L400.0 943.7 L401.8 945.5 L403.5 947.4 L405.2 949.2 L406.9 951.1 L408.7 952.9 L410.4 954.7 L412.1 956.6 L413.9 958.4 L415.7 960.1 L417.5 961.9 L419.3 963.6 L421.1 965.3 L423.0 966.9 L424.9 968.6 L426.8 970.2 L428.8 971.7 L430.8 973.2 L432.8 974.7 L434.8 976.1 L436.9 977.5 L439.0 978.8 L441.1 980.1 L443.3 981.3 L445.5 982.5 L447.7 983.6 L450.0 984.7 L452.3 985.7 L454.6 986.7 L457.0 987.6 L459.3 988.5 L461.7 989.5 L464.0 990.4 L466.4 991.2 L468.8 992.1 L471.1 993.0 L473.5 993.9 L475.9 994.7 L478.2 995.6 L480.6 996.4 L483.0 997.3 L485.4 998.1 L487.7 998.9 L490.1 999.8 L492.5 1000.6 L494.9 1001.4 L497.2 1002.3 L499.6 1003.1 L502.0 1004.0 L504.3 1004.8 L506.7 1005.6 L509.1 1006.5 L511.4 1007.4 L513.8 1008.2 L516.1 1009.1 L518.5 1010.0 L520.8 1010.9 L523.2 1011.8 L525.5 1012.7 L527.9 1013.6 L530.2 1014.4 L532.6 1015.3 L534.9 1016.2 L537.3 1017.1 L539.7 1017.9 L542.0 1018.8 L544.4 1019.6 L546.8 1020.4 L549.1 1021.2 L551.5 1022.0 L553.9 1022.8 L556.3 1023.5 L558.7 1024.2 L561.1 1024.9 L563.5 1025.6 L566.0 1026.3 L568.4 1026.9 L570.8 1027.5 L573.3 1028.2 L575.7 1028.8 L578.2 1029.3 L580.6 1029.9 L583.1 1030.5 L585.5 1031.1 L588.0 1031.6 L590.4 1032.1 L592.9 1032.7 L595.4 1033.2 L597.8 1033.7 L600.3 1034.3 L602.8 1034.8 L605.2 1035.3 L607.7 1035.8 L610.2 1036.3 L612.6 1036.9 L615.1 1037.4 L617.6 1037.9 L620.0 1038.4 L622.5 1039.0 L624.9 1039.5 L627.4 1040.1 L629.8 1040.6 L632.3 1041.2 L634.7 1041.8 L637.1 1042.4 L639.6 1043.0 L642.0 1043.6" stroke="#255E91" stroke-width="2.55"/>
<path d="M103.4 806.0 L103.7 808.6 L104.1 811.1 L104.4 813.6 L104.7 816.1 L105.0 818.6 L105.3 821.1 L105.6 823.6 L105.9 826.1 L106.3 828.6 L106.6 831.1 L106.9 833.6 L107.2 836.1 L107.6 838.6 L107.9 841.1 L108.2 843.6 L108.6 846.1 L108.9 848.6 L109.2 851.1 L109.6 853.5 L109.9 856.0 L110.3 858.5 L110.6 861.0 L111.0 863.5 L111.3 866.0 L111.7 868.4 L112.0 870.9 L112.4 873.4 L112.7 875.9 L113.1 878.4 L113.5 880.8 L113.8 883.3 L114.2 885.8 L114.6 888.3 L114.9 890.7 L115.3 893.2 L115.7 895.7 L116.1 898.2 L116.5 900.6 L116.8 903.1 L117.2 905.6 L117.6 908.1 L118.0 910.5 L118.4 913.0 L118.8 915.5 L119.2 917.9 L119.6 920.4 L120.0 922.9 L120.4 925.4 L120.9 927.8 L121.3 930.3 L121.7 932.8 L122.1 935.2 L122.5 937.7 L123.0 940.2 L123.4 942.7 L123.8 945.1 L124.3 947.6 L124.7 950.1 L125.2 952.6 L125.6 955.0 L126.1 957.5 L126.5 960.0 L127.0 962.5 L127.4 964.9 L127.9 967.4 L128.4 969.9 L128.9 972.4 L129.3 974.9 L129.8 977.3 L130.3 979.8 L130.8 982.3 L131.3 984.8 L131.8 987.3 L132.3 989.8 L132.8 992.2 L133.3 994.7 L133.9 997.2 L134.4 999.7 L135.0 1002.1 L135.6 1004.6 L136.2 1007.1 L136.8 1009.5 L137.4 1012.0 L138.1 1014.4 L138.8 1016.8 L139.5 1019.2 L140.2 1021.6 L141.0 1024.0 L141.8 1026.4 L142.6 1028.8 L143.5 1031.1 L144.3 1033.5 L145.2 1035.8 L146.2 1038.1 L147.2 1040.4 L148.2 1042.7 L149.3 1045.0 L150.4 1047.3 L151.5 1049.5 L152.7 1051.7 L153.9 1053.9 L155.2 1056.1 L156.5 1058.2 L157.9 1060.3 L159.3 1062.5 L160.8 1064.5 L162.3 1066.5 L163.9 1068.5 L165.6 1070.4 L167.3 1072.2 L169.1 1073.9 L170.9 1075.5 L172.9 1076.9 L174.9 1078.3 L177.0 1079.4 L179.2 1080.5 L181.5 1081.4 L183.9 1082.1 L186.3 1082.7 L188.7 1083.3 L191.2 1083.7 L193.7 1084.0 L196.3 1084.3 L198.8 1084.5 L201.4 1084.7 L204.0 1084.8 L206.5 1084.8 L209.1 1084.9 L211.6 1084.9 L214.1 1084.8 L216.6 1084.7 L219.2 1084.6 L221.7 1084.5 L224.2 1084.3 L226.7 1084.2 L229.1 1083.9 L231.6 1083.7 L234.1 1083.4 L236.6 1083.1 L239.1 1082.8 L241.5 1082.4 L244.0 1082.1 L246.4 1081.7 L248.9 1081.2 L251.4 1080.8 L253.8 1080.4 L256.3 1079.9 L258.7 1079.4 L261.2 1078.9 L263.7 1078.4 L266.1 1077.8 L268.6 1077.3 L271.0 1076.7 L273.5 1076.1 L276.0 1075.5 L278.5 1074.9 L280.9 1074.3 L283.4 1073.7 L285.9 1073.1 L288.4 1072.5 L290.8 1071.9 L293.3 1071.3 L295.8 1070.7 L298.3 1070.1 L300.8 1069.6 L303.3 1069.0 L305.7 1068.4 L308.2 1067.9 L310.7 1067.4 L313.2 1066.9 L315.7 1066.4 L318.2 1065.9 L320.7 1065.5 L323.1 1065.1 L325.6 1064.7 L328.1 1064.3 L330.6 1064.0 L333.1 1063.7 L335.6 1063.5 L338.0 1063.2 L340.5 1063.1 L343.0 1062.9 L345.5 1062.8 L347.9 1062.8 L350.4 1062.8 L352.9 1062.8 L355.3 1062.9 L357.8 1063.1 L360.3 1063.3 L362.7 1063.6 L365.2 1063.9 L367.6 1064.3 L370.1 1064.7 L372.5 1065.2 L374.9 1065.8 L377.4 1066.4 L379.8 1067.1 L382.1 1067.9 L384.5 1068.8 L386.8 1069.8 L389.0 1070.9 L391.2 1072.1 L393.4 1073.3 L395.5 1074.7 L397.6 1076.1 L399.7 1077.6 L401.7 1079.1 L403.7 1080.6 L405.7 1082.2 L407.7 1083.7 L409.7 1085.3 L411.7 1086.9 L413.8 1088.4 L415.8 1089.9 L417.8 1091.4 L419.9 1092.8 L422.0 1094.2 L424.1 1095.6 L426.2 1096.9 L428.4 1098.1 L430.5 1099.3 L432.7 1100.4 L435.0 1101.5 L437.2 1102.5 L439.5 1103.4 L441.8 1104.3 L444.1 1105.1 L446.5 1105.8 L448.9 1106.5 L451.3 1107.2 L453.7 1107.8 L456.1 1108.4 L458.6 1108.9 L461.0 1109.4 L463.5 1109.8 L466.0 1110.3 L468.5 1110.6 L471.0 1111.0 L473.5 1111.3 L476.0 1111.6 L478.6 1111.9 L481.1 1112.1 L483.6 1112.4 L486.2 1112.6 L488.7 1112.8 L491.3 1113.0 L493.8 1113.2 L496.4 1113.4 L498.9 1113.5 L501.5 1113.7 L504.0 1113.9 L506.5 1114.0 L509.1 1114.2 L511.6 1114.4 L514.1 1114.5 L516.6 1114.7 L519.2 1114.8 L521.7 1115.0 L524.2 1115.2 L526.7 1115.3 L529.2 1115.5 L531.7 1115.6 L534.2 1115.8 L536.7 1115.9 L539.2 1116.0 L541.7 1116.2 L544.2 1116.3 L546.7 1116.5 L549.2 1116.6 L551.7 1116.7 L554.2 1116.9 L556.6 1117.0 L559.1 1117.1 L561.6 1117.2 L564.1 1117.3 L566.6 1117.4 L569.1 1117.6 L571.6 1117.7 L574.1 1117.8 L576.5 1117.9 L579.0 1118.0 L581.5 1118.0 L584.0 1118.1 L586.5 1118.2 L589.0 1118.3 L591.5 1118.4 L594.0 1118.4 L596.5 1118.5 L599.0 1118.6 L601.5 1118.6 L604.0 1118.7 L606.5 1118.8 L609.0 1118.8 L611.5 1118.8 L614.1 1118.9 L616.6 1118.9 L619.1 1118.9 L621.6 1119.0 L624.2 1119.0 L626.7 1119.0 L629.2 1119.0 L631.8 1119.0 L634.3 1119.0 L636.9 1119.0 L639.4 1119.0 L642.0 1119.0" stroke="#6A37A2" stroke-width="2.7" stroke-dasharray="4.1 6.7" stroke-dashoffset="2.25" stroke-linecap="round"/>
</g>
<path d="M87.5 812.4 V1124.9 H641.4" fill="none" stroke="#000" stroke-width="2.1" stroke-linejoin="round"/>
<text x="73.0" y="817.3" text-anchor="end" class="t">0.4</text>
<text x="73.0" y="895.5" text-anchor="end" class="t">0.3</text>
<text x="73.0" y="973.6" text-anchor="end" class="t">0.2</text>
<text x="73.0" y="1051.7" text-anchor="end" class="t">0.1</text>
<text x="73.0" y="1130.6" text-anchor="end" class="t">0</text>
<text x="87.7" y="1151.4" text-anchor="middle" class="t">230</text>
<text x="198.5" y="1151.4" text-anchor="middle" class="t">250</text>
<text x="309.3" y="1151.4" text-anchor="middle" class="t">270</text>
<text x="420.1" y="1151.4" text-anchor="middle" class="t">290</text>
<text x="530.9" y="1151.4" text-anchor="middle" class="t">310</text>
<text x="641.7" y="1151.4" text-anchor="middle" class="t">330</text>
<text x="365.7" y="1179.3" text-anchor="middle" class="ax" font-size="20.5">Wavelength (nm)</text>
<text transform="translate(42.4 968.7) rotate(-90)" text-anchor="middle" class="ax" font-size="20.5">Absorbance</text>
<text x="572.2" y="853.4" class="num">3</text>
<path d="M512.0 967.2 L510.8 885.2" stroke="#F5B800" stroke-width="5.6" fill="none"/>
<path d="M510.8 868.3 L502.9 884.2 L518.7 884.2 Z" fill="#F5B800"/>
</svg>
</body></html>
